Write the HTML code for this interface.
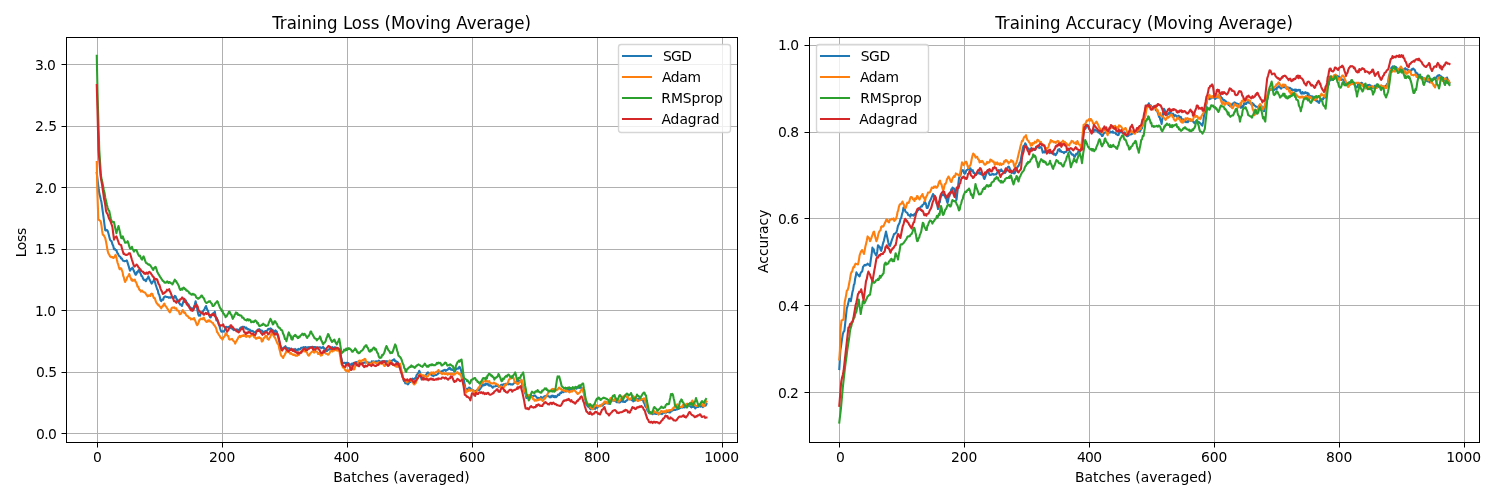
<!DOCTYPE html>
<html lang="en"><head><meta charset="utf-8"><title>Training curves</title>
<style>html,body{margin:0;padding:0;background:#fff}body{width:1500px;height:500px;overflow:hidden}svg{display:block}</style></head>
<body>
<svg width="1500" height="500" viewBox="0 0 1500 500" font-family="'DejaVu Sans', 'Liberation Sans', sans-serif" fill="#000">
<rect width="1500" height="500" fill="#fff"/>
<clipPath id="clip0"><rect x="66.5" y="37.5" width="671" height="405"/></clipPath>
<path d="M97.5 442.5V37.5M222.5 442.5V37.5M347.5 442.5V37.5M472.5 442.5V37.5M597.5 442.5V37.5M722.5 442.5V37.5M66.5 433.5H737.5M66.5 372.5H737.5M66.5 310.5H737.5M66.5 249.5H737.5M66.5 187.5H737.5M66.5 126.5H737.5M66.5 64.5H737.5" stroke="#b0b0b0" stroke-width="1" fill="none"/>
<path d="M97.5 442.5v5M222.5 442.5v5M347.5 442.5v5M472.5 442.5v5M597.5 442.5v5M722.5 442.5v5M66.5 433.5h-5M66.5 372.5h-5M66.5 310.5h-5M66.5 249.5h-5M66.5 187.5h-5M66.5 126.5h-5M66.5 64.5h-5" stroke="#000" stroke-width="1" fill="none"/>
<g clip-path="url(#clip0)" fill="none" stroke-width="2.08" stroke-linejoin="round" stroke-linecap="square">
<path d="M96.75 173L98.8 190L99.44 194.16L100.08 196.24L100.72 199.33L101.36 201.7L102 206L102.64 210.8L103.28 215.42L103.92 220.1L104.56 225.37L105.2 230L106 230.5L106.8 229.95L107.6 230.8L108.4 233.25L109.2 236.41L110 239.6L110.8 240.78L111.6 241.2L112.4 244.18L113.2 245.82L114 249.2L114.8 248.85L115.6 250.14L116.4 250L117.2 252.73L118 253.72L118.8 255.6L119.6 256.4L120.29 256.71L120.97 258.37L121.66 258.29L122.34 259.54L123.03 260.68L123.71 260.86L124.4 261.2L125.2 260.97L126 261.07L126.8 260.4L127.44 262.13L128.08 264.46L128.72 266.32L129.36 268.61L130 270.8L130.8 269.47L131.6 268.56L132.4 267.6L133.04 268.83L133.68 270.53L134.32 271.96L134.96 273.52L135.6 274.8L136.24 274.61L136.88 272.03L137.52 272.63L138.16 270.83L138.8 270L139.49 270.69L140.17 272.65L140.86 274.16L141.54 276.07L142.23 276.27L142.91 278.35L143.6 279.6L144.4 280.2L145.2 279.74L146 281.2L146.8 278.95L147.6 278.33L148.4 276.4L149.04 278.22L149.68 279.88L150.32 281.01L150.96 282.38L151.6 283.6L152.4 282.33L153.2 281.6L154 279.6L154.8 281.54L155.6 284.32L156.4 286.8L157.09 289.07L157.77 290.05L158.46 293.69L159.14 294.59L159.83 297.05L160.51 300.24L161.2 301.2L161.87 299.94L162.53 299.31L163.2 299.66L163.87 297.41L164.53 296.96L165.2 296.4L165.89 296.8L166.57 296.88L167.26 297.07L167.94 297.06L168.63 297.71L169.31 297.64L170 297.2L170.64 297.69L171.28 297.14L171.92 297.29L172.56 296.79L173.2 298L174 297.84L174.8 295.93L175.6 296.4L176.24 298.16L176.88 299.98L177.52 299.66L178.16 301.14L178.8 302.8L179.44 303.18L180.08 304.54L180.72 304.25L181.36 305.29L182 306L182.8 303.31L183.6 301.06L184.4 298.8L185.09 300.54L185.77 300.33L186.46 301.93L187.14 303.06L187.83 304.42L188.51 304.28L189.2 306L189.87 307.28L190.53 307.57L191.2 308.48L191.87 308.71L192.53 308.43L193.2 310L194 306.71L194.8 304.58L195.6 301.2L196.24 304.1L196.88 306.93L197.52 310.83L198.16 313.82L198.8 315.6L199.44 315.1L200.08 315.7L200.72 313.06L201.36 312.58L202 313.2L202.67 312.48L203.33 310.66L204 309.92L204.67 308.68L205.33 307.15L206 306L206.67 308.24L207.33 309.82L208 310.76L208.67 313.59L209.33 315.44L210 317.2L210.69 317.41L211.37 314.98L212.06 314.81L212.74 313.77L213.43 313.13L214.11 313.31L214.8 311.6L215.6 316.21L216.4 320.4L216.8 318L217.47 319.88L218.13 322.35L218.8 324.82L219.47 325.99L220.13 328.52L220.8 330.8L221.44 331.81L222.08 331.59L222.72 331.26L223.36 331.18L224 331.6L224.8 329.92L225.6 327.55L226.4 326.8L227.07 327.45L227.73 327.25L228.4 327.28L229.07 326.62L229.73 327.07L230.4 327.6L231.07 328.28L231.73 328.54L232.4 328.53L233.07 329.48L233.73 330.12L234.4 330L235.07 329.63L235.73 329.71L236.4 329.52L237.07 329.36L237.73 330.44L238.4 330L239.07 329.75L239.73 329.12L240.4 327.76L241.07 327.29L241.73 327.3L242.4 326.8L243.07 326.71L243.73 327.13L244.4 326.82L245.07 327.69L245.73 328.46L246.4 327.6L247.09 328.91L247.77 329.4L248.46 329.01L249.14 329.94L249.83 329.68L250.51 330.85L251.2 330.8L251.87 330.86L252.53 331.06L253.2 331.25L253.87 332.25L254.53 332.28L255.2 332.4L255.87 331.97L256.53 330.71L257.2 330.88L257.87 329.47L258.53 330.55L259.2 329.2L259.87 329.66L260.53 330.37L261.2 330.74L261.87 330.46L262.53 331.11L263.2 332.4L263.87 332.12L264.53 332.69L265.2 330.99L265.87 330.95L266.53 331.04L267.2 330.8L267.84 329.39L268.48 328.91L269.12 329.13L269.76 328.86L270.4 328.4L271.04 328.66L271.68 330.2L272.32 329.75L272.96 330.52L273.6 330.8L274.24 331.84L274.88 332.06L275.52 330.41L276.16 331.23L276.8 331.6L277.47 335.07L278.13 336.49L278.8 339.57L279.47 342.19L280.13 344.98L280.8 348.56L281.47 347.67L282.13 348.12L282.8 348.46L283.47 348.33L284.13 347.23L284.8 346.96L285.49 346.22L286.17 347.61L286.86 347.8L287.54 348.53L288.23 348.6L288.91 348.03L289.6 349.36L290.29 349.7L290.97 348.49L291.66 349.32L292.34 349.99L293.03 350.12L293.71 350.91L294.4 350.16L295.09 348.95L295.77 350.12L296.46 350.2L297.14 349.52L297.83 349.94L298.51 348.87L299.2 349.36L299.84 349.4L300.48 349.02L301.12 347.86L301.76 347.71L302.4 347.76L303.04 347.5L303.68 347.08L304.32 347.85L304.96 347.22L305.6 346.96L306.27 347.82L306.93 347.87L307.6 347.39L308.27 347.39L308.93 347.11L309.6 347.76L310.27 347.18L310.93 347.05L311.6 347.55L312.27 346.74L312.93 347.14L313.6 346.96L314.29 347.18L314.97 346.92L315.66 347.2L316.34 348.21L317.03 348.42L317.71 347.22L318.4 347.76L319.09 347.54L319.77 347.33L320.46 347.27L321.14 348.15L321.83 347.57L322.51 347.77L323.2 346.96L323.84 348.74L324.48 348.32L325.12 349.26L325.76 350.18L326.4 350.96L327.04 351.04L327.68 349.95L328.32 349.88L328.96 349.68L329.6 348.56L330.24 349.04L330.88 348.49L331.52 347.65L332.16 347.07L332.8 347.76L333.44 348.38L334.08 348.01L334.72 347.24L335.36 347.48L336 347.76L336.7 347.99L337.41 347.8L338.11 349.34L338.82 349.25L339.52 350.16L340.24 353.16L340.96 356.89L341.68 359.59L342.4 362.8L343.09 363.1L343.77 363.03L344.46 362.82L345.14 362.83L345.83 363.82L346.51 362.71L347.2 362.8L347.87 364.1L348.53 363.1L349.2 364.4L349.87 364.49L350.53 364.4L351.2 365.2L351.89 363.64L352.57 365.16L353.26 363.19L353.94 362.84L354.63 362.99L355.31 362.49L356 362L356.67 362.42L357.33 362.39L358 361.98L358.67 363.54L359.33 362.84L360 363.6L360.69 363.61L361.37 363.69L362.06 363.91L362.74 363.02L363.43 362.86L364.11 362.79L364.8 362.8L365.49 361.78L366.17 362.38L366.86 362.25L367.54 362.17L368.23 362.89L368.91 362.63L369.6 362.8L370.31 363.5L371.02 363.26L371.73 361.23L372.44 362.16L373.16 361.36L373.87 362.04L374.58 361.64L375.29 361.89L376 361.2L376.69 361.49L377.37 361.85L378.06 361.38L378.74 360.56L379.43 361.12L380.11 361.42L380.8 362L381.49 361.62L382.17 361.21L382.86 362.56L383.54 361.45L384.23 362.14L384.91 361.13L385.6 361.2L386.27 362.38L386.93 361.07L387.6 362.33L388.27 361.54L388.93 362.78L389.6 362.8L390.27 363.14L390.93 360.83L391.6 360.72L392.27 360.8L392.93 360.03L393.6 359.6L394.27 359.25L394.93 361.04L395.6 360.83L396.27 361.91L396.93 361.78L397.6 362L398.24 362.97L398.88 364.94L399.52 367.56L400.16 367.64L400.8 370L401.44 371.98L402.08 374.81L402.72 377.28L403.36 379.42L404 381.2L404.67 380.92L405.33 383.37L406 382.71L406.67 383.34L407.33 383.87L408 384.4L408.64 383.47L409.28 382.27L409.92 381.82L410.56 381.93L411.2 380.4L411.87 379.25L412.53 378.5L413.2 379.49L413.87 378.99L414.53 378.8L415.2 378L415.87 377.75L416.53 375.2L417.2 374.5L417.87 373.48L418.53 372.68L419.2 370.8L420 372.4L420.8 376.56L421.6 379.6L422.24 378.5L422.88 377.56L423.52 377.53L424.16 376.15L424.8 376.4L425.44 376.21L426.08 374.58L426.72 373.8L427.36 372.71L428 372.4L428.69 373.7L429.37 373.47L430.06 373.54L430.74 374.56L431.43 374.64L432.11 375.47L432.8 375.6L433.49 376.1L434.17 375L434.86 375.2L435.54 374.95L436.23 375.08L436.91 374.56L437.6 374L438.29 373.56L438.97 372.73L439.66 372.79L440.34 371.6L441.03 372.07L441.71 371.29L442.4 370.8L443.09 370.99L443.77 370.29L444.46 370.02L445.14 369.84L445.83 370.84L446.51 369.99L447.2 370L447.84 369.55L448.48 368.38L449.12 369.01L449.76 367.62L450.4 368.4L451.07 369.68L451.73 369.33L452.4 370.01L453.07 369.75L453.73 370.46L454.4 371.6L455.2 370.87L456 369.35L456.8 368.4L457.44 368.48L458.08 368.78L458.72 368.28L459.36 366.72L460 367.6L460.64 369.14L461.28 371.14L461.92 373.34L462.56 374.82L463.2 378L464 380.63L464.8 385.06L465.6 389.2L466.29 388.76L466.97 389.26L467.66 388.68L468.34 389.52L469.03 387.62L469.71 387.75L470.4 388.4L471.2 389.34L472 389.85L472.8 390.8L473.44 390.26L474.08 391.22L474.72 391.4L475.36 391.52L476 390.8L476.67 390.31L477.33 390.26L478 390.12L478.67 389.76L479.33 390.03L480 389.2L480.64 387.97L481.28 387.48L481.92 385.22L482.56 385.77L483.2 384.4L483.87 385.3L484.53 384.38L485.2 384.97L485.87 383.48L486.53 384.22L487.2 384.4L487.89 383.89L488.57 385.26L489.26 385.72L489.94 385.02L490.63 385.65L491.31 386.13L492 386.8L492.67 387.77L493.33 386.49L494 386.47L494.67 386.46L495.33 386.3L496 386L496.67 385.87L497.33 385.27L498 385.63L498.67 386.9L499.33 386.14L500 386L500.67 385.53L501.33 384.72L502 385.17L502.67 384.95L503.33 384.31L504 384.4L504.67 384.76L505.33 383.81L506 383.91L506.67 384.33L507.33 383.86L508 383.6L508.67 384.35L509.33 383.74L510 383.76L510.67 384.39L511.33 384.38L512 384.4L512.67 384.65L513.33 383.82L514 383.19L514.67 383.05L515.33 382.76L516 382L516.69 381.15L517.37 381.46L518.06 381.13L518.74 381.75L519.43 380.59L520.11 381.21L520.8 380.4L521.44 381.46L522.08 383.89L522.72 386.27L523.36 387.3L524 389.2L524.8 392.77L525.6 393.97L526.4 398L527.07 397.75L527.73 397.56L528.4 397.13L529.07 396.1L529.73 397.03L530.4 396.4L531.07 395.17L531.73 396.66L532.4 396.16L533.07 396.41L533.73 395.59L534.4 395.6L535.04 395.47L535.68 396.28L536.32 396.78L536.96 397.85L537.6 398L538.27 397.83L538.93 398.23L539.6 398.27L540.27 398.78L540.93 396.91L541.6 398L542.29 397.44L542.97 397.7L543.66 397.35L544.34 396.32L545.03 396.15L545.71 395.9L546.4 395.6L547.04 396L547.68 395.94L548.32 396.21L548.96 396.27L549.6 397.2L550.24 396.68L550.88 397.33L551.52 395.73L552.16 396.46L552.8 395.6L553.47 396.81L554.13 395.99L554.8 397.1L555.47 396.07L556.13 397.2L556.8 396.4L557.44 395.75L558.08 394.47L558.72 394.69L559.36 394.89L560 393.2L560.67 392.63L561.33 392.95L562 391.87L562.67 391.67L563.33 392.14L564 391.6L564.67 391.25L565.33 391.4L566 391.52L566.67 389.91L567.33 389.91L568 390L568.67 389.92L569.33 390.83L570 389.45L570.67 389.23L571.33 389.6L572 389.2L572.67 390.03L573.33 388.38L574 388.26L574.67 388.19L575.33 388.32L576 387.6L576.67 388.7L577.33 386.95L578 386.72L578.67 387.72L579.33 387.93L580 387.6L580.64 386.82L581.28 387.94L581.92 389.13L582.56 388.63L583.2 389.2L583.84 392.55L584.48 395.42L585.12 398.73L585.76 401.65L586.4 404.4L587.04 405.23L587.68 406.41L588.32 406.06L588.96 407.08L589.6 407.6L590 408.5L590.75 409.3L591.5 408.5L592.25 408.72L593 409L593.7 408.24L594.4 407.74L595.1 408.9L595.8 407.72L596.5 407L597.2 407.79L597.9 406.86L598.6 406.2L599.3 405.7L600 405.5L600.75 405.58L601.5 405.28L602.25 405.68L603 405L603.75 403.95L604.5 403.9L605.25 403.44L606 402.5L606.75 402.68L607.5 402.93L608.25 403.61L609 403.5L609.75 402.99L610.5 401.75L611.25 400.93L612 400L612.67 400L613.33 400.86L614 400.74L614.67 400.19L615.33 401.13L616 401.5L616.75 402.14L617.5 402.21L618.25 401.81L619 402.5L619.75 402.45L620.5 401.88L621.25 401.38L622 400.5L622.75 401.76L623.5 401.11L624.25 402L625 402L625.75 401.03L626.5 400.83L627.25 400.05L628 398.5L628.75 399.06L629.5 399.45L630.25 398.84L631 399.5L631.75 400.13L632.5 399.38L633.25 401.35L634 400.5L634.75 400.79L635.5 398.94L636.25 398.27L637 399L637.75 399.86L638.5 398.8L639.25 399.69L640 399.5L640.75 399.06L641.5 400.06L642.25 399.91L643 400.5L643.75 402.47L644.5 403.58L645.25 406.2L646 407L646.75 408.1L647.5 410.71L648.25 411.5L649 413L649.75 413.42L650.5 412.38L651.25 412.42L652 413.5L652.67 414.17L653.33 413L654 413.57L654.67 413.66L655.33 413.43L656 414L656.67 414.03L657.33 413.06L658 413.1L658.67 414.18L659.33 413.15L660 413.5L660.67 413.83L661.33 413.7L662 414.09L662.67 413.42L663.33 412.08L664 413L664.75 412.27L665.5 412.03L666.25 412.55L667 411.5L667.75 411.94L668.5 411.73L669.25 412.49L670 412.5L670.75 411.55L671.5 411.3L672.25 410.33L673 409.5L673.75 410.11L674.5 409.68L675.25 410.05L676 409.5L676.67 409.24L677.33 409.39L678 408.67L678.67 408.85L679.33 408.37L680 408L680.67 407.77L681.33 407.44L682 407.35L682.67 407.59L683.33 406.07L684 407L684.67 407.43L685.33 405.4L686 406.15L686.67 405.82L687.33 406.16L688 405.5L688.67 405.8L689.33 405.81L690 406.05L690.67 406.69L691.33 407.43L692 406.5L692.67 406.87L693.33 405.73L694 406.77L694.67 407.4L695.33 408.43L696 407.5L696.67 406.83L697.33 406.8L698 407.06L698.67 406.68L699.33 405.52L700 406L700.7 406.62L701.4 405.48L702.1 406.15L702.8 407.13L703.5 406.5L704.25 405.15L705 405.06L705.75 405.54L706.5 404" stroke="#1f77b4"/>
<path d="M96.75 162L97.3 190L98.32 219.6L98.96 219.86L99.6 220.4L100.24 220.62L100.88 222L101.52 225.95L102.16 230.99L102.8 234.8L103.6 235L104.4 236.58L105.2 238L106 241.46L106.8 245.9L107.6 250.8L108.4 253.37L109.2 254.49L110 256.4L110.64 256.48L111.28 257.27L111.92 256.97L112.56 257.02L113.2 258L114 257.56L114.8 256.35L115.6 254.8L116.27 256.73L116.93 259.99L117.6 262.8L118.27 264.67L118.93 267.08L119.6 269.2L120.4 268.12L121.2 268.4L121.87 270.59L122.53 271.9L123.2 275.81L123.87 277.37L124.53 280.46L125.2 282L125.87 280.24L126.53 279.82L127.2 277.12L127.87 276.44L128.53 275.63L129.2 274L130 276.33L130.8 278.23L131.6 280.4L132.24 279.33L132.88 280.81L133.52 280.28L134.16 280.39L134.8 279.6L135.49 281.71L136.17 282.36L136.86 284.27L137.54 286.64L138.23 286.56L138.91 288.74L139.6 290L140.24 290.01L140.88 291.61L141.52 291.06L142.16 290.7L142.8 291.6L143.49 291.95L144.17 292.19L144.86 292.56L145.54 293.24L146.23 294.62L146.91 295.08L147.6 296.4L148.29 296.14L148.97 295.25L149.66 295.49L150.34 296.01L151.03 294.03L151.71 293.67L152.4 294L153.07 296.01L153.73 298.03L154.4 297.91L155.07 298.92L155.73 301.17L156.4 302.8L157.09 303.37L157.77 304.79L158.46 304.61L159.14 305.85L159.83 306.62L160.51 306.72L161.2 308.4L161.84 306.56L162.48 306.73L163.12 305.82L163.76 304.11L164.4 303.6L165.1 305.57L165.8 306.32L166.5 307.16L167.2 308.34L167.9 309.29L168.6 310.6L169.3 311.78L170 312.4L170.8 310.84L171.6 308.1L172.4 307.6L173.04 307.67L173.68 307.45L174.32 307.41L174.96 308.57L175.6 308.4L176.29 308.2L176.97 310.46L177.66 310.44L178.34 310.91L179.03 311.91L179.71 314.3L180.4 314L181.2 313.49L182 311.17L182.8 310L183.47 311.53L184.13 312.86L184.8 312.31L185.47 313.57L186.13 315.18L186.8 315.6L187.49 316.28L188.17 316.3L188.86 317.88L189.54 317.71L190.23 318.32L190.91 319.44L191.6 318.8L192.4 318.8L193.2 319.37L194 318L194.64 319.61L195.28 320.79L195.92 322.39L196.56 324.25L197.2 325.2L197.9 324.16L198.6 322.61L199.3 320.16L200 319.6L200.64 318.66L201.28 318.81L201.92 319.04L202.56 319.13L203.2 318L203.84 317.7L204.48 319.51L205.12 320.14L205.76 321.13L206.4 322L207.04 321.79L207.68 320.87L208.32 320.29L208.96 321.28L209.6 320.4L210.29 321.5L210.97 321.53L211.66 322.38L212.34 322.74L213.03 323.03L213.71 324.87L214.4 325.2L215.07 326.28L215.73 327.49L216.4 329.25L217.07 331.98L217.73 332.77L218.4 334L219.07 335.06L219.73 335.91L220.4 337.27L221.07 338.14L221.73 337.92L222.4 339.6L223.07 338.39L223.73 337.09L224.4 336.51L225.07 335.29L225.73 333.17L226.4 333.2L227.04 335.11L227.68 335.89L228.32 336.05L228.96 338.95L229.6 339.6L230.4 339.39L231.2 339.32L232 338.8L232.64 339.76L233.28 340.79L233.92 341.38L234.56 341.68L235.2 343.6L235.84 341.95L236.48 341.12L237.12 339.76L237.76 338.82L238.4 337.2L239.04 336.96L239.68 335.78L240.32 337.1L240.96 336.08L241.6 336.4L242.27 335.48L242.93 335.92L243.6 335.2L244.27 336.03L244.93 335.18L245.6 335.6L246.27 336.92L246.93 335.96L247.6 336.05L248.27 336.26L248.93 335.83L249.6 337.2L250.24 336.19L250.88 335.77L251.52 335.53L252.16 334.18L252.8 334.8L253.44 335.58L254.08 337.08L254.72 336.92L255.36 337.93L256 338.8L256.64 338.68L257.28 337.68L257.92 337.56L258.56 338.02L259.2 337.2L259.84 338.07L260.48 338.08L261.12 338.57L261.76 341.5L262.4 341.2L263.04 340.3L263.68 338.05L264.32 337.9L264.96 337.08L265.6 335.6L266.24 336.45L266.88 336.13L267.52 339L268.16 339.12L268.8 339.6L269.44 338.19L270.08 337.41L270.72 335.62L271.36 334.28L272 333.2L272.64 334.65L273.28 334.02L273.92 336.63L274.56 337.26L275.2 338L275.84 339.7L276.48 341.07L277.12 342.71L277.76 343.93L278.4 344.4L279.2 348.36L280 351.12L280.8 354.8L281.6 356.26L282.4 356.67L283.2 358L283.84 356.03L284.48 355.38L285.12 353.89L285.76 352.92L286.4 350.8L287.04 350.02L287.68 351.79L288.32 352.15L288.96 352.16L289.6 352.4L290.24 353.72L290.88 352.89L291.52 354.05L292.16 354.13L292.8 354.8L293.49 354.92L294.17 354.5L294.86 355.08L295.54 355.65L296.23 355.46L296.91 355.7L297.6 355.6L298.29 354.39L298.97 354.91L299.66 352.83L300.34 352.43L301.03 351.95L301.71 350.72L302.4 350L303.04 350.61L303.68 350.45L304.32 351.45L304.96 350.97L305.6 350.8L306.24 352.01L306.88 352.29L307.52 353.96L308.16 355.22L308.8 355.6L309.44 355.05L310.08 353.5L310.72 352.92L311.36 352.29L312 351.6L312.69 351.63L313.37 350.85L314.06 352.66L314.74 351.56L315.43 351.68L316.11 351.37L316.8 351.6L317.47 352.26L318.13 354.02L318.8 353.09L319.47 353.99L320.13 354.37L320.8 355.6L321.44 354.67L322.08 355.18L322.72 353.34L323.36 352.8L324 352.4L324.67 351.81L325.33 353.01L326 353.74L326.67 353.74L327.33 354.19L328 354.8L328.64 354.45L329.28 353.5L329.92 352.35L330.56 351.18L331.2 350.8L331.89 349.86L332.57 351.51L333.26 349.61L333.94 350.71L334.63 350.13L335.31 349.72L336 350L336.64 350.5L337.28 349.6L337.92 350.71L338.56 349.44L339.2 350L340 355.09L340.8 360.32L341.6 364.4L342.24 364.84L342.88 367.42L343.52 367.77L344.16 367.14L344.8 369.2L345.47 370.38L346.13 371.07L346.8 370.27L347.47 370.71L348.13 371.42L348.8 371.6L349.44 369.6L350.08 369.78L350.72 369.25L351.36 367.47L352 366.8L352.8 368.23L353.6 369.5L354.4 369.2L355.07 366.79L355.73 365.54L356.4 364.82L357.07 364.23L357.73 362.76L358.4 361.2L359.04 360.7L359.68 360.58L360.32 360.81L360.96 362.15L361.6 361.2L362.24 360.2L362.88 359.93L363.52 360.3L364.16 359.14L364.8 358.8L365.44 359.38L366.08 361.84L366.72 362.36L367.36 362.91L368 364.4L368.69 363.97L369.37 364.47L370.06 363.53L370.74 363.64L371.43 363.77L372.11 363.6L372.8 362.8L373.49 361.8L374.17 362.55L374.86 362.63L375.54 362.88L376.23 363.25L376.91 363.47L377.6 362.8L378.29 362.57L378.97 362.21L379.66 362.93L380.34 362.49L381.03 363.78L381.71 363.03L382.4 362.8L383.2 363.93L384 365.51L384.8 366L385.49 364.87L386.17 364.24L386.86 363.53L387.54 363.19L388.23 362.75L388.91 361.67L389.6 360.4L390.27 361.65L390.93 361.91L391.6 363.04L392.27 363.5L392.93 365.07L393.6 365.2L394.27 365.15L394.93 365.72L395.6 366.16L396.27 366.73L396.93 366.16L397.6 366.8L398.4 365.64L399.2 364.24L400 363.6L400.64 365.93L401.28 370.31L401.92 373L402.56 374.96L403.2 378.8L403.84 378.93L404.48 380.42L405.12 380.41L405.76 380.81L406.4 382L407.09 382.49L407.77 381.3L408.46 381.14L409.14 381.42L409.83 380.49L410.51 380.67L411.2 380.4L411.84 381.31L412.48 382.44L413.12 382.42L413.76 384.22L414.4 384.4L415.04 383.49L415.68 383.17L416.32 381.18L416.96 379.65L417.6 378.8L418.4 376.93L419.2 375L420 374L420.64 374.34L421.28 374.62L421.92 375.47L422.56 375.34L423.2 375.6L423.87 375.28L424.53 376.45L425.2 375.78L425.87 376.29L426.53 377.09L427.2 376.4L427.87 376.45L428.53 374.67L429.2 374.35L429.87 374.48L430.53 373.62L431.2 372.4L431.84 373.03L432.48 373.54L433.12 372.26L433.76 373.52L434.4 374L435.07 372.54L435.73 372.32L436.4 371.79L437.07 371.59L437.73 371.31L438.4 370L439.2 371.5L440 372.28L440.8 373.2L441.49 373.11L442.17 374.13L442.86 373.68L443.54 372.67L444.23 373.72L444.91 374.14L445.6 374L446.29 373.45L446.97 374.1L447.66 374.82L448.34 373.83L449.03 373.94L449.71 373.95L450.4 374L451.04 373.59L451.68 374.03L452.32 373.89L452.96 374.44L453.6 374.8L454.24 373.84L454.88 374.34L455.52 373.26L456.16 373.31L456.8 372.4L457.47 372.06L458.13 373.15L458.8 373.88L459.47 374.34L460.13 374.02L460.8 374.8L461.6 377.63L462.4 380.69L463.2 383.6L463.84 385.13L464.48 386.85L465.12 389.13L465.76 389.94L466.4 392.4L467.04 390.87L467.68 391.13L468.32 391.08L468.96 389.38L469.6 390L470.4 390.71L471.2 390.01L472 390L472.64 390.76L473.28 390.46L473.92 391.38L474.56 392.89L475.2 392.4L476 392.33L476.8 390.58L477.6 389.2L478.24 388.05L478.88 387.19L479.52 387.02L480.16 384.93L480.8 384.4L481.44 383.21L482.08 383.01L482.72 382.95L483.36 381.21L484 381.2L484.67 381.36L485.33 381.37L486 381.23L486.67 381.07L487.33 381.67L488 381.2L488.67 381.88L489.33 381.14L490 383.25L490.67 383.01L491.33 383.33L492 383.6L492.67 383.35L493.33 383.38L494 382.5L494.67 383.41L495.33 383.87L496 383.6L496.64 384.52L497.28 384.44L497.92 384.42L498.56 385.47L499.2 386.8L499.87 386.7L500.53 387.71L501.2 386.24L501.87 387.28L502.53 387.73L503.2 387.6L503.87 387.22L504.53 386.15L505.2 384.5L505.87 385.21L506.53 384.27L507.2 383.6L508 382.24L508.8 379.81L509.6 378.8L510.24 377.99L510.88 378.62L511.52 377.25L512.16 376.82L512.8 376.4L513.6 378.08L514.4 381.31L515.2 382.8L516 382.37L516.8 383.53L517.6 384.4L518.27 383.79L518.93 382.73L519.6 382.44L520.27 381.39L520.93 381.16L521.6 379.6L522.4 382.63L523.2 385.89L524 389.2L524.8 391.45L525.6 392.44L526.4 395.6L527.04 396.19L527.68 394.74L528.32 395.72L528.96 395.73L529.6 394.8L530.24 396.14L530.88 396.49L531.52 396.82L532.16 396.9L532.8 398.8L533.44 399.41L534.08 399.29L534.72 400.7L535.36 399.9L536 400.4L536.67 400.6L537.33 399.89L538 400.22L538.67 399.65L539.33 399.62L540 399.6L540.64 398.69L541.28 399.5L541.92 399.98L542.56 400.93L543.2 400.4L543.87 399.6L544.53 397.83L545.2 398.47L545.87 396.85L546.53 396.34L547.2 394.8L547.84 393.48L548.48 392.1L549.12 391.95L549.76 391.01L550.4 390.8L551.04 390.61L551.68 389.28L552.32 389.33L552.96 388.74L553.6 389.2L554.24 389.42L554.88 388.99L555.52 390.43L556.16 390.27L556.8 390L557.6 389.66L558.4 388.27L559.2 387.6L559.84 388.2L560.48 389.03L561.12 388.56L561.76 390.21L562.4 390L563.04 389.95L563.68 390.7L564.32 391.1L564.96 390.87L565.6 390L566.27 389.79L566.93 391.48L567.6 391.02L568.27 391.36L568.93 391.86L569.6 392.4L570.27 391.34L570.93 391.73L571.6 390.8L572.27 391.42L572.93 390.58L573.6 390L574.27 389.57L574.93 390.79L575.6 391.43L576.27 392.27L576.93 392.96L577.6 394L578.4 393.57L579.2 392.84L580 392.4L580.8 390.45L581.6 389.97L582.4 388.4L583.04 391.14L583.68 392.88L584.32 395.77L584.96 397.59L585.6 399.6L586.4 400.88L587.2 402.57L588 404.4L588.67 405.26L589.33 406.42L590 407L590.75 407.59L591.5 408.54L592.25 409.14L593 409L593.75 407.43L594.5 406.35L595.25 405.94L596 405L596.67 405.5L597.33 406L598 406.1L598.67 406.34L599.33 405.73L600 406.5L600.75 405.95L601.5 404.64L602.25 404.48L603 403.5L603.67 403.33L604.33 401.79L605 401.5L605.75 401.74L606.5 403.35L607.25 402.2L608 403L608.75 401.46L609.5 399.89L610.25 398.45L611 398L611.62 399.3L612.25 399.12L612.88 399.9L613.5 401L614.12 400.17L614.75 399.15L615.38 400.29L616 399.5L616.75 399.69L617.5 400.46L618.25 401.75L619 401.5L619.75 400.54L620.5 399.81L621.25 398.97L622 398L622.62 398.2L623.25 396.24L623.88 396.18L624.5 396L625.25 395.15L626 396.51L626.75 397.1L627.5 397L628.12 397.26L628.75 399.1L629.38 399.05L630 399L630.75 399.34L631.5 397.6L632.25 397.76L633 396L633.75 396.6L634.5 397.99L635.25 398.71L636 399.5L636.75 399.53L637.5 400.94L638.25 401L639 400.5L639.75 399.77L640.5 400.16L641.25 399.46L642 399L642.62 398.99L643.25 399.12L643.88 398.38L644.5 398.5L645.17 401.14L645.83 403.7L646.5 406L647.12 407.2L647.75 408.76L648.38 411.02L649 412L649.75 412.31L650.5 413.6L651.25 413.85L652 413L652.75 412.38L653.5 412.7L654.25 411.15L655 412L655.7 412.16L656.4 412.52L657.1 413.08L657.8 412.9L658.5 414.5L659.25 413.78L660 412.83L660.75 411.43L661.5 411L662.2 411.16L662.9 411.91L663.6 412.49L664.3 411.06L665 412L665.67 412.55L666.33 410.38L667 410.54L667.67 410.45L668.33 411.19L669 410L669.75 410.21L670.5 410.07L671.25 410.49L672 409.5L672.75 408.75L673.5 407.5L674.25 407.69L675 406L675.75 405.63L676.5 404.79L677.25 404.28L678 405L678.75 405.59L679.5 407.04L680.25 406.91L681 407L681.62 406.65L682.25 406.92L682.88 405.04L683.5 405.5L684.25 405.36L685 404.45L685.75 405.14L686.5 404L687.25 403.66L688 404.69L688.75 404.48L689.5 404.5L690.25 403.51L691 402.88L691.75 401.43L692.5 400.5L693.12 402.42L693.75 402.63L694.38 402.77L695 405L695.75 405.93L696.5 405.99L697.25 405.65L698 405.5L698.75 405.9L699.5 405.13L700.25 403.91L701 404L701.62 403.52L702.25 404.67L702.88 405.71L703.5 406.5L704.25 405.54L705 403.21L705.75 402.24L706.5 401.5" stroke="#ff7f0e"/>
<path d="M96.75 55.8L97.7 100L99.3 150L100.9 175L101.62 179.59L102.35 182.11L103.08 185.84L103.8 190L104.56 192.99L105.32 197.94L106.08 200.99L106.84 204.57L107.6 207.6L108.4 210.11L109.2 210.8L110 214.8L110.8 218.47L111.6 221.2L112.4 221.67L113.2 222.21L114 222L114.8 226.08L115.6 229.85L116.4 233.2L117.09 230.15L117.79 228.28L118.48 226L119.16 228.79L119.84 231.63L120.52 234.97L121.2 238L122 238.2L122.8 236.4L123.6 239.05L124.4 240.71L125.2 242.8L126 242.45L126.8 242.51L127.6 241.2L128.4 242.92L129.2 246.21L130 248.4L130.64 248.78L131.28 248.32L131.92 246.8L132.61 248.89L133.31 250.3L134 251.6L134.8 250.06L135.6 250.13L136.4 250L137.2 251.97L138 254L138.67 255.13L139.33 256.08L140 255.7L140.67 257.42L141.33 258.81L142 259.6L142.8 257.56L143.6 256.4L144.4 258.4L145.2 260.94L146 262.8L146.64 263.28L147.28 263.52L147.92 264.15L148.56 264.69L149.2 264.4L149.87 265.16L150.53 265.67L151.2 266.8L151.87 267.85L152.53 269.03L153.2 270L154 268.09L154.8 267.43L155.6 266.8L156.4 268.78L157.2 271.8L158 273.2L158.67 274.54L159.33 275.24L160 276.88L160.67 277.56L161.33 278.65L162 279.6L162.64 280.82L163.28 281.06L163.92 281.6L164.56 282.55L165.2 282.8L165.87 282.36L166.53 282.55L167.2 281.3L167.87 282.03L168.53 282.98L169.2 282L169.84 282.28L170.48 282.96L171.12 283.2L171.76 283.35L172.4 284.4L173.2 283.07L174 281.19L174.8 279.6L175.44 281.16L176.08 281.03L176.72 282.5L177.36 283.25L178 284.4L178.8 285.94L179.6 288.73L180.4 290L181.04 289.12L181.68 288.64L182.32 289.66L182.96 288.04L183.6 287.6L184.24 288.13L184.88 289.14L185.52 288.97L186.16 290.35L186.8 290.8L187.44 290.63L188.08 291.5L188.72 291.93L189.36 293.46L190 293.2L190.69 293.78L191.37 294.68L192.06 294.81L192.74 293.74L193.43 294.64L194.11 294.34L194.8 294.8L195.44 295.25L196.08 297.06L196.72 297.99L197.36 298.07L198 298.8L198.67 298.46L199.33 297.9L200 297.38L200.67 296.86L201.33 295.58L202 295.6L202.67 297.14L203.33 297.62L204 298.55L204.67 300.33L205.33 301.75L206 302.8L206.67 303L207.33 302.48L208 302.16L208.67 301.37L209.33 301.69L210 301.2L210.64 302.28L211.28 303.28L211.92 303.67L212.56 305.98L213.2 306L213.87 305.62L214.53 304.77L215.2 303.65L215.87 302.64L216.53 302.51L217.2 301.2L217.84 301.91L218.48 303.83L219.12 305.36L219.76 307.27L220.4 308.4L221.09 309.26L221.77 311.24L222.46 310.51L223.14 313.37L223.83 313.71L224.51 315.09L225.2 315.6L225.6 317.2L226.27 315.98L226.93 315.9L227.6 314.22L228.27 313.6L228.93 311.71L229.6 311.6L230.24 313.34L230.88 314.54L231.52 314.88L232.16 317.3L232.8 318.8L233.44 317.34L234.08 316.69L234.72 314.58L235.36 313.78L236 312.4L236.67 313.64L237.33 312.98L238 315.03L238.67 314.66L239.33 314.94L240 315.6L240.71 315.37L241.42 315.68L242.13 317.72L242.84 317.47L243.56 317.92L244.27 319.38L244.98 319.7L245.69 319.93L246.4 320.4L247.04 319.42L247.68 319L248.32 320.44L248.96 319.73L249.6 319.6L250.4 320.25L251.2 322.25L252 322L252.64 321.44L253.28 321.55L253.92 322.14L254.56 321.06L255.2 320.4L255.89 320.89L256.57 321.53L257.26 323.47L257.94 322.92L258.63 324.86L259.31 326.09L260 326L260.64 325.47L261.28 325.5L261.92 324.6L262.56 324.87L263.2 323.6L264 324.56L264.8 324.82L265.6 326L266.4 325.94L267.2 325.55L268 325.2L268.8 322.73L269.6 320.81L270.4 318.8L271.2 320.01L272 322.07L272.8 324.4L273.6 323.69L274.4 321.25L275.2 321.2L275.84 322.48L276.48 323.45L277.12 324.24L277.76 326.46L278.4 326.8L279.04 327.83L279.68 327.76L280.32 328.84L280.96 329.87L281.6 330L282.29 330.74L282.97 333.32L283.66 334.67L284.34 336.62L285.03 339.1L285.71 339.25L286.4 341.2L287.2 338.08L288 334.68L288.8 332.4L289.44 333.97L290.08 335.63L290.72 335.62L291.36 338.98L292 339.6L292.64 339.53L293.28 336.58L293.92 335.89L294.56 336.03L295.2 334.8L295.84 335.5L296.48 336.74L297.12 336.57L297.76 338.09L298.4 338L299.04 336.62L299.68 336.96L300.32 335.85L300.96 335.2L301.6 334.8L302.24 333.68L302.88 334.27L303.52 335.1L304.16 333.82L304.8 334L305.6 335.22L306.4 336.76L307.2 338L307.87 336.42L308.53 336.03L309.2 335.13L309.87 333.62L310.53 331.66L311.2 331.6L311.84 333.75L312.48 334.21L313.12 335.45L313.76 336.63L314.4 338L315.2 338.5L316 338.7L316.8 340.4L317.44 339.6L318.08 338.91L318.72 338.57L319.36 338.13L320 336.4L320.64 337.62L321.28 340.52L321.92 341.27L322.56 343.15L323.2 344.4L324 342.8L324.8 342.49L325.6 341.2L326.4 338.31L327.2 336.8L328 334L328.67 334.67L329.33 336.72L330 337.8L330.67 339.56L331.33 340.84L332 342L332.8 341.32L333.6 340.15L334.4 339.6L335.2 341.71L336 343.15L336.8 344.4L337.6 342.13L338.4 341.11L339.2 338.8L340 343.28L340.8 348.48L341.6 353.2L342.24 352.54L342.88 351.91L343.52 351.76L344.16 349.68L344.8 350L345.49 350.52L346.17 348.6L346.86 350.04L347.54 349.44L348.23 348.08L348.91 348.87L349.6 348.4L350.4 349.34L351.2 349.93L352 351.6L352.64 351.68L353.28 350.99L353.92 349.95L354.56 350.03L355.2 348.4L355.84 349.5L356.48 350.23L357.12 352.07L357.76 351.89L358.4 353.2L359.09 353.13L359.77 352.74L360.46 351.67L361.14 351.04L361.83 350.68L362.51 349.98L363.2 349.2L363.84 348.08L364.48 346.5L365.12 346.58L365.76 345.26L366.4 345.2L367.04 347.09L367.68 347.58L368.32 349.24L368.96 350.81L369.6 351.6L370.27 351.57L370.93 349.82L371.6 350.7L372.27 349.52L372.93 348.7L373.6 347.6L374.4 347.7L375.2 349.77L376 349.2L376.67 351.11L377.33 352.83L378 353.51L378.67 356.17L379.33 357.43L380 358L380.67 357.22L381.33 357.5L382 355.08L382.67 355.36L383.33 354.43L384 353.2L384.8 351.25L385.6 348.07L386.4 346L387.07 347.06L387.73 348.99L388.4 350.25L389.07 350.82L389.73 351.9L390.4 353.2L391.2 352.42L392 352.92L392.8 351.6L393.6 349.16L394.4 346.53L395.2 344.4L395.84 345.62L396.48 347.92L397.12 350.52L397.76 352.26L398.4 355.6L399.2 356.19L400 357.04L400.8 358L401.49 359.39L402.17 361.66L402.86 363.78L403.54 364.79L404.23 368.11L404.91 368.56L405.6 371.6L406.24 371.89L406.88 369.18L407.52 369.22L408.16 368.2L408.8 367.6L409.44 367.49L410.08 366.54L410.72 366.94L411.36 365.44L412 366L412.64 366.74L413.28 366.48L413.92 367.17L414.56 367.85L415.2 367.6L415.84 366.29L416.48 365.99L417.12 365.26L417.76 364.98L418.4 364.4L419.2 364.89L420 365.2L420.8 366.13L421.6 366.38L422.4 366.8L423.2 365.64L424 364.97L424.8 363.6L425.44 364.81L426.08 365.42L426.72 366.62L427.36 365.81L428 366.8L428.64 366.45L429.28 365.09L429.92 364.97L430.56 365.22L431.2 364.4L431.84 365.26L432.48 364.44L433.12 365.14L433.76 365.08L434.4 365.2L435.04 365.16L435.68 364.68L436.32 363.98L436.96 362.82L437.6 363.6L438.4 362.5L439.2 363.28L440 362.8L440.8 363.55L441.6 365.5L442.4 365.2L443.2 364.43L444 364.11L444.8 362.8L445.44 362.63L446.08 362.99L446.72 364.35L447.36 365.65L448 365.2L448.8 365.16L449.6 364.49L450.4 364.4L451.2 365.16L452 365.81L452.8 366L453.6 368.65L454.4 370.8L455.04 369.06L455.68 366.7L456.32 364.89L456.96 363.48L457.6 362L458.27 361.53L458.93 360.47L459.6 361.69L460.27 360.73L460.93 359.71L461.6 359.6L462.4 366.16L463.2 372.97L464 378L464.8 378.67L465.6 379.19L466.4 379.6L467.04 380.97L467.68 380.45L468.32 381.69L468.96 382.38L469.6 383.6L470.4 382.7L471.2 380.01L472 379.6L472.64 379.46L473.28 378.7L473.92 378.49L474.56 378.01L475.2 378L476 380.15L476.8 380.19L477.6 382L478.4 381.88L479.2 383.24L480 383.6L480.64 382.16L481.28 381.64L481.92 380.21L482.56 379.14L483.2 378L484 378.56L484.8 378.13L485.6 379.6L486.24 377.38L486.88 378.46L487.52 375.59L488.16 375.41L488.8 374L489.44 373.7L490.08 374.59L490.72 374.81L491.36 376.08L492 375.6L492.8 376.82L493.6 377.42L494.4 379.6L495.07 377.88L495.73 377.9L496.4 377.28L497.07 376.97L497.73 376.03L498.4 374L499.04 374.65L499.68 376.81L500.32 377.64L500.96 379.91L501.6 381.2L502.27 380.84L502.93 378.59L503.6 379.27L504.27 378.4L504.93 377.06L505.6 376.4L506.24 375.75L506.88 376.67L507.52 375.36L508.16 374.52L508.8 374.8L509.44 375.5L510.08 376.65L510.72 377.1L511.36 376.28L512 378L512.64 376.13L513.28 375.53L513.92 374.72L514.56 373.6L515.2 372.4L516 375.3L516.8 379.6L517.44 379.78L518.08 379.22L518.72 377.77L519.36 377.79L520 378L520.64 376.81L521.28 374.92L521.92 374.65L522.56 373.61L523.2 372.4L523.84 376.32L524.48 381.04L525.12 385.88L525.76 388.68L526.4 393.2L527.2 395.86L528 397.75L528.8 400.4L529.44 399.49L530.08 397.57L530.72 395.12L531.36 393.02L532 391.6L532.8 392.57L533.6 392.63L534.4 393.2L535.04 391.88L535.68 391.37L536.32 391.19L536.96 391.74L537.6 390L538.24 391.08L538.88 391.73L539.52 391.96L540.16 392.68L540.8 392.4L541.47 392.57L542.13 390.46L542.8 390.74L543.47 390.08L544.13 389.34L544.8 388.4L545.44 389.11L546.08 388.26L546.72 389.94L547.36 389.57L548 390.8L548.69 391.44L549.37 390.74L550.06 390.99L550.74 391.23L551.43 390.27L552.11 391.39L552.8 391.6L553.6 390.63L554.4 391.59L555.2 390.8L556 385.71L556.8 380.57L557.6 376.4L558.4 377.08L559.2 376.4L560 379.43L560.8 382.26L561.6 386L562.4 386.74L563.2 387.49L564 388.4L564.67 388.39L565.33 387.58L566 388.59L566.67 388.04L567.33 388.63L568 387.6L568.67 388.04L569.33 387.32L570 388.58L570.67 387.99L571.33 388.32L572 388.4L572.67 387.17L573.33 387.44L574 388.76L574.67 388.47L575.33 386.77L576 387.6L576.67 387.52L577.33 387.26L578 387.49L578.67 385.93L579.33 385.31L580 386L580.64 385.69L581.28 384.68L581.92 384.24L582.56 383.59L583.2 383.6L583.84 388.13L584.48 390.81L585.12 395.66L585.76 399.31L586.4 402.8L587.2 403.51L588 405.48L588.8 406L589.4 405.71L590 404L590.62 404.96L591.25 405.38L591.88 406.68L592.5 407L593.25 405.22L594 404.53L594.75 403.73L595.5 401.5L596.25 399.77L597 398.51L597.75 398.91L598.5 397.5L599.17 397.86L599.83 398.92L600.5 400L601.12 399.59L601.75 398.67L602.38 398.58L603 398L603.75 397.59L604.5 397.96L605.25 398.33L606 398.5L606.62 399.19L607.25 399.03L607.88 399.82L608.5 400L609.25 402.34L610 404L610.62 402.41L611.25 400.2L611.88 399.1L612.5 396.5L613.17 395.58L613.83 396.09L614.5 395L615.12 396.93L615.75 398.25L616.38 398.85L617 400.5L617.75 399.67L618.5 398.03L619.25 395.77L620 395L620.62 395.97L621.25 396.54L621.88 398.6L622.5 399.5L623.12 399.41L623.75 398.27L624.38 396.34L625 396L625.67 394.63L626.33 394.24L627 393.5L627.67 394.1L628.33 395.26L629 395.5L629.67 394.5L630.33 394.47L631 393L631.67 394.56L632.33 397.25L633 398.5L633.75 398.47L634.5 400L635.12 398.34L635.75 397.29L636.38 396.35L637 394.5L637.75 395.81L638.5 396.04L639.25 396.8L640 398.5L640.67 397.34L641.33 396.14L642 395L642.6 393.97L643.2 393.34L643.8 392.5L644.53 392.79L645.27 394.8L646 395.5L646.75 400.31L647.5 404L648.25 407.53L649 412L649.75 411.8L650.5 413.19L651.25 413.36L652 413L652.62 411.08L653.25 409.65L653.88 407.56L654.5 407L655.2 407.99L655.9 408.53L656.6 409.13L657.3 410.9L658 410.5L658.7 409.62L659.4 408.86L660.1 408.26L660.8 407.22L661.5 406.5L662.17 407.63L662.83 407.43L663.5 408L664.25 407.22L665 407.35L665.75 405.08L666.5 404.5L667.12 403.74L667.75 404.36L668.38 403.81L669 404L669.67 400.34L670.33 397.48L671 394L671.67 394.82L672.33 393.85L673 395L673.67 398.41L674.33 400.9L675 405.5L675.75 406.77L676.5 406.45L677.25 408.12L678 408.5L678.67 407.17L679.33 404.58L680 401.5L680.67 401.24L681.33 399.42L682 400L682.62 402.3L683.25 402.28L683.88 404.19L684.5 405L685.17 405.56L685.83 406.54L686.5 407.5L687.2 407.49L687.9 404.79L688.6 404.13L689.3 403.74L690 403L690.75 404.21L691.5 403.15L692.25 405.57L693 405.5L693.75 403.4L694.5 402.14L695.25 400.98L696 398L696.75 400.28L697.5 402.61L698.25 404.76L699 406L699.75 404.59L700.5 403.58L701.25 402.16L702 401L702.67 401.79L703.33 402.17L704 403L704.67 401.39L705.33 400.01L706 399" stroke="#2ca02c"/>
<path d="M96.75 85L97.2 100L98.5 150L100.5 175L101.27 180.42L102.03 184.27L102.8 190L103.44 194.22L104.08 199.08L104.72 201.72L105.36 205.68L106 210.8L106.67 212.78L107.33 213.56L108 215.2L108.67 217.55L109.33 218.97L110 220.4L110.8 222.16L111.6 224.49L112.4 226.8L114 239.6L114.8 237.72L115.6 237.15L116.4 236.4L117.04 237.96L117.68 239.9L118.32 241.53L118.96 243.76L119.6 244.4L120.4 244.76L121.2 245.2L122 248.68L122.8 251.22L123.6 254L124.24 253.62L124.88 254.5L125.52 254.68L126.16 255.01L126.8 254.8L127.44 254.76L128.08 254.24L128.72 253.35L129.36 253.35L130 253.2L130.67 255.49L131.33 257.83L132 260.05L132.67 261.93L133.33 264.22L134 266L134.64 266.63L135.28 265.8L135.92 265.23L136.56 264.58L137.2 265.2L137.87 266.15L138.53 267.41L139.2 267.79L139.87 269.75L140.53 269.39L141.2 270.8L141.87 271.13L142.53 271.84L143.2 271.71L143.87 273.48L144.53 273.05L145.2 274L145.89 273.11L146.57 272.53L147.26 273.81L147.94 273.78L148.63 272.29L149.31 271.83L150 272.4L150.67 273.07L151.33 274.24L152 274.89L152.67 276.38L153.33 276.46L154 278L154.64 279.42L155.28 278.82L155.92 279.5L156.56 279.04L157.2 279.6L157.9 281.92L158.6 284.1L159.3 284.59L160 286.86L160.7 289.14L161.4 290.62L162.1 291.73L162.8 294L163.51 293.2L164.22 293.25L164.93 292.58L165.64 291.5L166.36 291.51L167.07 289.7L167.78 290.3L168.49 290.26L169.2 289.2L169.89 291.42L170.57 292.39L171.26 294.48L171.94 296.18L172.63 297.7L173.31 299.03L174 301.2L174.8 300.93L175.6 301.91L176.4 302.8L177.2 301.56L178 300.63L178.8 301.2L179.47 301.27L180.13 299.26L180.8 299.15L181.47 298.61L182.13 297.46L182.8 298L183.47 299.13L184.13 299.06L184.8 302.04L185.47 301.35L186.13 302.74L186.8 304.4L187.5 304.95L188.2 305.77L188.9 306.64L189.6 308.07L190.3 309.02L191 310.3L191.7 309.32L192.4 310.8L193.07 310.32L193.73 309.06L194.4 307.46L195.07 305.84L195.73 306.57L196.4 304.4L197.04 306.55L197.68 306.33L198.32 309.6L198.96 310.46L199.6 311.6L200.24 312.1L200.88 312.73L201.52 312.27L202.16 312.85L202.8 313.2L203.4 314.57L204 314.8L204.64 313.88L205.28 313.44L205.92 312.94L206.56 313.97L207.2 313.2L208 313.44L208.8 314.63L209.6 315.6L210.27 315.08L210.93 315.42L211.6 315.02L212.27 314.1L212.93 315.07L213.6 314L214.24 315.22L214.88 316.13L215.52 316.66L216.16 317.67L216.8 318.8L217.44 320.12L218.08 321.71L218.72 323.37L219.36 324.81L220 326L220.64 325.55L221.28 325.3L221.92 325.44L222.56 325.4L223.2 324.4L223.87 326.31L224.53 326.8L225.2 327.31L225.87 329.3L226.53 330.51L227.2 331.6L227.87 330.59L228.53 329.77L229.2 328.14L229.87 327.41L230.53 325.17L231.2 325.2L231.84 327L232.48 326.83L233.12 327.43L233.76 328.7L234.4 329.2L235.07 329.61L235.73 329.87L236.4 331.27L237.07 331.37L237.73 331.5L238.4 332.4L239.07 331.99L239.73 331.05L240.4 330.22L241.07 329.04L241.73 329L242.4 327.6L243.04 328.39L243.68 330.63L244.32 332.29L244.96 332.22L245.6 334L246.27 333.86L246.93 332.48L247.6 333.22L248.27 331.99L248.93 331.93L249.6 332.4L250.29 332.85L250.97 333.68L251.66 333.71L252.34 333.65L253.03 333.68L253.71 334.46L254.4 334.8L255.07 335.1L255.73 333.98L256.4 331.66L257.07 331.2L257.73 330L258.4 330L259.07 331.11L259.73 331.44L260.4 331.54L261.07 333.1L261.73 333.73L262.4 334.8L263.04 333.73L263.68 333.64L264.32 333.84L264.96 332.36L265.6 332.4L266.24 332.52L266.88 332.24L267.52 333.13L268.16 334.43L268.8 334L269.6 332.97L270.4 330.93L271.2 330L271.84 330.46L272.48 332.29L273.12 332.33L273.76 332.92L274.4 334L275.04 334.64L275.68 333.78L276.32 333.61L276.96 334.24L277.6 334L278.27 335.96L278.93 339.11L279.6 341.59L280.27 344.77L280.93 347.3L281.6 350L282.24 350.57L282.88 349.46L283.52 348.61L284.16 348.44L284.8 347.6L285.44 348.16L286.08 349.07L286.72 349.89L287.36 350.46L288 350.8L288.67 351.36L289.33 350.62L290 349.66L290.67 349.93L291.33 348.89L292 349.2L292.67 350.83L293.33 349.28L294 350.78L294.67 351.66L295.33 351.39L296 352.4L296.67 352.34L297.33 353.28L298 352.17L298.67 353.48L299.33 352.98L300 353.2L300.67 352.24L301.33 352.7L302 351.27L302.67 350.25L303.33 349.1L304 348.4L304.64 348.86L305.28 348.98L305.92 350.41L306.56 349.83L307.2 350L307.84 349.15L308.48 348.8L309.12 348.82L309.76 347.51L310.4 347.6L311.07 347.49L311.73 347.28L312.4 347.3L313.07 349.77L313.73 348.86L314.4 349.2L315.04 349.9L315.68 348.92L316.32 348.45L316.96 347.36L317.6 347.6L318.27 348.56L318.93 349.61L319.6 349.95L320.27 351.78L320.93 353L321.6 353.2L322.27 352.98L322.93 352.3L323.6 350.71L324.27 352.17L324.93 351L325.6 350L326.24 348.6L326.88 347.81L327.52 347.28L328.16 346.3L328.8 346L329.44 346.71L330.08 346.85L330.72 348.04L331.36 348.36L332 349.2L332.7 349L333.4 348.39L334.1 349.05L334.8 349L335.5 348.3L336.2 347.73L336.9 348.58L337.6 348.4L338.4 348.25L339.2 349.6L340 350.8L340.8 355.9L341.6 361.14L342.4 365.2L343.2 365.61L344 366.49L344.8 366.8L345.44 366.91L346.08 364.97L346.72 364.67L347.36 364.43L348 363.6L348.64 365.65L349.28 365.53L349.92 366.8L350.56 369.29L351.2 370L351.84 369.26L352.48 366.8L353.12 365.74L353.76 364.8L354.4 362.8L355.07 363.24L355.73 362.83L356.4 364.54L357.07 365.48L357.73 364.78L358.4 366L359.04 366.26L359.68 364.88L360.32 363.57L360.96 364.21L361.6 363.6L362.24 363.4L362.88 365.65L363.52 365.8L364.16 367.16L364.8 366.8L365.47 365.48L366.13 366.08L366.8 366.42L367.47 365.88L368.13 365.16L368.8 364.4L369.44 364.78L370.08 365.09L370.72 365.45L371.36 366.05L372 365.2L372.67 364.36L373.33 364.91L374 365.29L374.67 365.86L375.33 366.09L376 366L376.64 365.33L377.28 365.01L377.92 364.99L378.56 364.76L379.2 363.6L379.89 362.82L380.57 362.77L381.26 362.61L381.94 363.33L382.63 361.52L383.31 361.72L384 361.2L384.67 362.03L385.33 362.57L386 364.13L386.67 364.36L387.33 364.93L388 366L388.64 365.4L389.28 364.87L389.92 363.72L390.56 363.03L391.2 362.8L391.84 363.9L392.48 363.43L393.12 364.74L393.76 364.62L394.4 365.2L395.07 364.45L395.73 364.02L396.4 363.43L397.07 364.49L397.73 364.2L398.4 363.6L399.2 366.01L400 368.3L400.8 371.6L401.44 373.02L402.08 375.16L402.72 377.54L403.36 378.23L404 380.4L404.67 379.42L405.33 380.47L406 380.15L406.67 379.88L407.33 379.3L408 380.4L408.64 380.5L409.28 380.81L409.92 379.29L410.56 378.86L411.2 379.6L411.84 379.86L412.48 380.64L413.12 381.74L413.76 382.14L414.4 382.8L415.07 380.84L415.73 381L416.4 380.08L417.07 378.68L417.73 378.21L418.4 377.2L419.2 375.55L420 375.6L420.64 376.11L421.28 376.35L421.92 377.9L422.56 379.13L423.2 379.6L423.84 378.34L424.48 379.2L425.12 379.44L425.76 379.01L426.4 378.8L427.04 379.77L427.68 379L428.32 380.38L428.96 379.41L429.6 379.6L430.24 378.69L430.88 379.12L431.52 378.67L432.16 379.56L432.8 378.8L433.44 379.8L434.08 380L434.72 379.65L435.36 379.31L436 379.6L436.67 379.09L437.33 378.65L438 379.52L438.67 378.32L439.33 378.74L440 378.8L440.67 378.74L441.33 378.73L442 377.57L442.67 377.52L443.33 377.43L444 378L444.69 378.54L445.37 377.54L446.06 377.79L446.74 378.74L447.43 379.04L448.11 379.69L448.8 378.8L449.44 378.27L450.08 378.32L450.72 376.34L451.36 377.2L452 376.4L452.8 378.72L453.6 380.65L454.4 382L455.04 381.07L455.68 381.49L456.32 380.97L456.96 379.44L457.6 378.8L458.4 379.62L459.2 380.21L460 381.2L460.8 380.49L461.6 380.13L462.4 379.6L463.2 383.95L464 388.96L464.8 394.8L465.44 395.12L466.08 395.46L466.72 396.76L467.36 396.59L468 397.2L468.8 397.72L469.6 398.33L470.4 400.4L471.2 396.6L472 393.2L472.8 393.39L473.6 393.78L474.4 395.6L475.2 395.85L476 392.91L476.8 393.2L477.44 393.95L478.08 393.98L478.72 392.78L479.36 392.31L480 392.4L480.67 392.91L481.33 392.17L482 392.91L482.67 393.36L483.33 392.37L484 393.2L484.64 394.07L485.28 393.25L485.92 393.37L486.56 393.94L487.2 393.2L487.84 392.75L488.48 393.15L489.12 394.33L489.76 394.7L490.4 394.8L491.04 394.36L491.68 394.11L492.32 393.71L492.96 392.99L493.6 393.2L494.24 391.68L494.88 391.19L495.52 390.87L496.16 390.25L496.8 389.2L497.6 389.3L498.4 391.76L499.2 391.6L499.84 391.9L500.48 390.12L501.12 388.75L501.76 388.3L502.4 387.6L503.07 388.84L503.73 389.15L504.4 391.05L505.07 390.64L505.73 392.12L506.4 392.4L507.04 392.18L507.68 392.54L508.32 391.19L508.96 390.75L509.6 390L510.24 389.69L510.88 390.18L511.52 389.75L512.16 391.74L512.8 390.8L513.44 390.52L514.08 390.05L514.72 389.86L515.36 389.75L516 389.2L516.69 389.06L517.37 387.31L518.06 388.55L518.74 387.42L519.43 386.89L520.11 387.47L520.8 386L521.6 389.63L522.4 392.5L523.2 396.4L524 399.93L524.8 404.85L525.6 408.4L526.24 408.61L526.88 408.81L527.52 408.17L528.16 409.14L528.8 409.2L529.6 407.77L530.4 406.63L531.2 406L532 407.26L532.8 407.24L533.6 407.6L534.29 407L534.97 407.25L535.66 407.29L536.34 404.94L537.03 405.85L537.71 405.01L538.4 404.4L539.04 404.69L539.68 405.83L540.32 405.84L540.96 405.44L541.6 406L542.27 406.05L542.93 404.57L543.6 404L544.27 402.61L544.93 402.7L545.6 402L546.4 403.14L547.2 403.43L548 404.4L548.64 404.11L549.28 404.48L549.92 403.37L550.56 402.78L551.2 402.8L551.9 404.06L552.6 403.01L553.3 402.6L554 403.29L554.7 404.16L555.4 403.93L556.1 404.27L556.8 405.2L557.44 405.09L558.08 405.42L558.72 405.54L559.36 405.84L560 406L560.64 405.65L561.28 405.18L561.92 403.79L562.56 402.54L563.2 401.2L563.84 400.67L564.48 400.94L565.12 400.14L565.76 400.56L566.4 400.4L567.2 399.27L568 399.95L568.8 398.8L569.44 400.38L570.08 400.31L570.72 401.34L571.36 400.11L572 401.2L572.64 402.18L573.28 402.11L573.92 402.75L574.56 402.53L575.2 403.6L575.84 402.78L576.48 401.96L577.12 400.82L577.76 401.05L578.4 399.6L579.04 399.39L579.68 399L580.32 397.4L580.96 396.69L581.6 396.4L582.4 397.89L583.2 401.14L584 402.8L584.8 406.29L585.6 408.66L586.4 411.6L587.04 411.69L587.68 412.62L588.32 413.32L588.96 413.83L589.6 414L590 412L590.62 412.5L591.25 413.89L591.88 414.61L592.5 414.5L593.2 413.52L593.9 413.69L594.6 413.06L595.3 411.79L596 412L596.67 412.12L597.33 412.99L598 413.93L598.67 413.29L599.33 413.88L600 414.5L600.62 413.15L601.25 411.78L601.88 409.96L602.5 409.5L603.17 409.15L603.83 407.72L604.5 407L605.17 409.26L605.83 411.39L606.5 413L607.12 413.4L607.75 413.72L608.38 414.5L609 415.5L609.75 414.35L610.5 413.3L611.25 412.72L612 412L612.75 410.72L613.5 410.76L614.25 410.18L615 410L615.75 410.77L616.5 411.54L617.25 412.89L618 412.5L618.67 413.09L619.33 412.73L620 412.28L620.67 412.23L621.33 412.32L622 412L622.67 411.57L623.33 411.39L624 410.56L624.67 410.91L625.33 409.86L626 410L626.67 410.19L627.33 410.56L628 412.35L628.67 411.77L629.33 412.66L630 412.5L630.62 410.47L631.25 410.11L631.88 408.25L632.5 407L633.12 408.05L633.75 407.82L634.38 407.9L635 409L635.75 409.09L636.5 408.31L637.25 407.18L638 407.5L638.7 407.18L639.4 406.41L640.1 407.02L640.8 406.38L641.5 406L642.25 407.24L643 407.51L643.75 409.78L644.5 410L645.12 411.72L645.75 414.21L646.38 415.91L647 418L647.67 419.42L648.33 420.03L649 422L649.75 422.21L650.5 422.51L651.25 421.71L652 422.5L652.67 423.03L653.33 421.83L654 421.98L654.67 421.86L655.33 422.77L656 422L656.67 421.92L657.33 422.14L658 422.72L658.67 422.79L659.33 423.51L660 423L660.62 422.06L661.25 421.2L661.88 420.35L662.5 420L663.25 418.47L664 418.18L664.75 416.94L665.5 415.5L666.2 415.95L666.9 416.66L667.6 416.2L668.3 418.4L669 418.5L669.75 418.79L670.5 417.4L671.25 418.23L672 418.5L672.75 418.98L673.5 420.33L674.25 420.18L675 420.5L675.75 420.6L676.5 420.16L677.25 419.07L678 418L678.75 417.14L679.5 416.55L680.25 416.75L681 416.5L681.67 416.63L682.33 416.11L683 415.5L683.75 415.32L684.5 416.94L685.25 416.54L686 417.5L686.7 416.23L687.4 415.9L688.1 414.31L688.8 412.85L689.5 412L690.12 412.37L690.75 413.58L691.38 414.44L692 415L692.7 415.36L693.4 415.42L694.1 416.5L694.8 417.11L695.5 417L696.17 416.01L696.83 416.57L697.5 415.46L698.17 415.24L698.83 415.49L699.5 414.5L700.2 414.26L700.9 415.28L701.6 416.68L702.3 416.95L703 416.5L703.7 416.44L704.4 416.35L705.1 417.85L705.8 417.48L706.5 417.5" stroke="#d62728"/>
</g>
<rect x="66.5" y="37.5" width="671" height="405" fill="none" stroke="#000" stroke-width="1"/>
<rect x="618.5" y="44.5" width="112" height="88" rx="2.8" ry="2.8" fill="#fff" fill-opacity="0.8" stroke="#ccc" stroke-opacity="0.8" stroke-width="1.39"/>
<path d="M623 56H651" stroke="#1f77b4" stroke-width="2" stroke-linecap="square" fill="none"/>
<path d="M623 77H651" stroke="#ff7f0e" stroke-width="2" stroke-linecap="square" fill="none"/>
<path d="M623 98H651" stroke="#2ca02c" stroke-width="2" stroke-linecap="square" fill="none"/>
<path d="M623 119H651" stroke="#d62728" stroke-width="2" stroke-linecap="square" fill="none"/>
<clipPath id="clip1"><rect x="809.5" y="37.5" width="670" height="405"/></clipPath>
<path d="M839.5 442.5V37.5M964.5 442.5V37.5M1089.5 442.5V37.5M1214.5 442.5V37.5M1339.5 442.5V37.5M1464.5 442.5V37.5M809.5 392.5H1479.5M809.5 305.5H1479.5M809.5 218.5H1479.5M809.5 132.5H1479.5M809.5 45.5H1479.5" stroke="#b0b0b0" stroke-width="1" fill="none"/>
<path d="M839.5 442.5v5M964.5 442.5v5M1089.5 442.5v5M1214.5 442.5v5M1339.5 442.5v5M1464.5 442.5v5M809.5 392.5h-5M809.5 305.5h-5M809.5 218.5h-5M809.5 132.5h-5M809.5 45.5h-5" stroke="#000" stroke-width="1" fill="none"/>
<g clip-path="url(#clip1)" fill="none" stroke-width="2.08" stroke-linejoin="round" stroke-linecap="square">
<path d="M839.28 369.04L840.4 350L841.2 345.2L842 339.35L842.8 334L843.6 331.78L844.4 330.8L846.8 308.4L847.6 305.96L848.4 302.56L849.2 298.8L850 299.16L850.8 301.2L851.6 296.91L852.4 292.29L853.2 289.2L853.84 284.78L854.48 283.9L855.12 278.84L855.76 276.3L856.4 272.4L857.2 273.86L858 274.8L858.8 275.65L859.6 276.4L860.29 273.97L860.97 272.39L861.66 271.95L862.34 270.9L863.03 266.93L863.71 266.05L864.4 265.2L865.04 264.72L865.68 265.4L866.32 264.67L866.96 264.57L867.6 263.6L868.4 264.59L869.2 264.44L870 266L870.8 259.76L871.6 254.75L872.4 247.6L873.07 249.07L873.73 249.29L874.4 252.73L875.07 253.3L875.73 254.85L876.4 255.6L877.2 251.97L878 245.2L878.64 245.88L879.28 246.9L879.92 246.96L880.56 249.8L881.2 250.8L881.89 248.54L882.57 245.3L883.26 242.58L883.94 240.58L884.63 237.42L885.31 234.67L886 231.6L886.8 235.28L887.6 239.03L888.4 242.8L889.2 245.23L890 246L890.67 243.92L891.33 241.66L892 239.56L892.67 237.9L893.33 236.15L894 234L894.8 233.88L895.6 233.04L896.4 232.4L897.2 229.47L898 225.76L898.8 224.4L899.6 222.76L900.4 219.34L901.2 218L901.97 214.37L902.73 211.95L903.5 207.5L904.12 208.83L904.75 209.1L905.38 211.44L906 212L906.75 212.54L907.5 213.11L908.25 215.25L909 215L909.67 215.54L910.33 216.6L911 214.14L911.67 215.01L912.33 215.35L913 215L913.75 215.56L914.5 213.8L915.25 214.77L916 213L916.67 212.3L917.33 210.77L918 210.39L918.67 209.65L919.33 208.75L920 208L920.62 206.8L921.25 206.36L921.88 206.56L922.5 205L923.17 204.57L923.83 204.21L924.5 201.5L925.25 202.49L926 203.94L926.75 207.97L927.5 208L928.12 206.59L928.75 204.85L929.38 202.1L930 201L930.75 199.6L931.5 197.58L932.25 195.8L933 194L933.62 195.98L934.25 195.38L934.88 197.15L935.5 198L936.12 199.37L936.75 203.87L937.38 205.38L938 209L938.62 207.71L939.25 202.43L939.88 202.06L940.5 198L941.12 196.34L941.75 194.72L942.38 195.18L943 194L943.62 195.19L944.25 195.24L944.88 195.99L945.5 198L946.17 198.07L946.83 201.07L947.5 203L948.12 201.02L948.75 196.9L949.38 196.36L950 194L950.62 193.66L951.25 189.34L951.88 189.58L952.5 187.5L953.17 188.61L953.83 188.34L954.5 189.5L955.17 193.26L955.83 195.62L956.5 200L959 178L959.75 176.36L960.5 175.29L961.25 171.73L962 170L962.67 170.5L963.33 170.4L964 173L964.75 173.75L965.5 173L966.25 170.35L967 170L967.67 169.41L968.33 168.59L969 168L969.75 169.84L970.5 168.24L971.25 170.79L972 171L972.75 170.15L973.5 173.02L974.25 172.65L975 174L975.75 174.92L976.5 174.19L977.25 173.14L978 173.5L978.75 172.66L979.5 172.04L980.25 174.1L981 172.5L981.7 174.65L982.4 174.62L983.1 175.33L983.8 178.1L984.5 179L985.25 176.89L986 174.36L986.75 172.72L987.5 170.5L988.12 172.16L988.75 172.73L989.38 174.37L990 175L990.75 174.75L991.5 174.72L992.25 173.82L993 174L993.75 174.76L994.5 174.37L995.25 174.13L996 174.5L996.75 173.53L997.5 172.06L998.25 170.97L999 170L999.75 170.67L1000.5 171.2L1001.25 169.45L1002 171L1002.75 171.35L1003.5 172.07L1004.25 171.6L1005 173L1005.75 171.85L1006.5 169.81L1007.25 168.07L1008 167L1008.75 166.58L1009.5 167.84L1010.25 170.07L1011 171L1011.75 173.06L1012.5 171.92L1013.25 171.28L1014 173.5L1014.75 173.12L1015.5 170.89L1016.25 170.31L1017 168L1017.68 166.38L1018.36 166.45L1019.04 164.92L1019.72 162.52L1020.4 162.4L1021.2 157.32L1022 152.9L1022.8 148L1023.6 145.7L1024.4 145.76L1025.2 143.2L1026 144.48L1026.8 147.11L1027.6 148L1028.4 148.34L1029.2 149.59L1030 149.6L1030.64 150.06L1031.28 148.08L1031.92 149.41L1032.56 150.19L1033.2 149.6L1033.89 148.87L1034.57 149.9L1035.26 149.28L1035.94 147.16L1036.63 147.47L1037.31 147.32L1038 146.4L1038.64 146.04L1039.28 148.07L1039.92 147.54L1040.56 147.13L1041.2 147.2L1042 149.39L1042.8 152.8L1043.44 151.81L1044.08 151.58L1044.72 152.49L1045.36 150.85L1046 151.2L1046.64 152.09L1047.28 153.12L1047.92 150.62L1048.56 151.34L1049.2 152L1049.84 153.07L1050.48 152.56L1051.12 151.8L1051.76 152.6L1052.4 152.8L1053.04 153.26L1053.68 154.36L1054.32 153.55L1054.96 154.51L1055.6 155.2L1056.24 153.98L1056.88 153.25L1057.52 151.67L1058.16 149.55L1058.8 149.6L1059.44 149.04L1060.08 151.54L1060.72 150.66L1061.36 151.61L1062 152L1062.64 152.03L1063.28 152.31L1063.92 153.1L1064.56 152.04L1065.2 152L1065.84 152.01L1066.48 151.14L1067.12 150.3L1067.76 148.57L1068.4 148.8L1069.04 149.58L1069.68 151.8L1070.32 151.92L1070.96 153.01L1071.6 154.4L1072.24 154.67L1072.88 154.41L1073.52 155.19L1074.16 156.49L1074.8 156.8L1075.44 155.14L1076.08 153.87L1076.72 154.5L1077.36 153.62L1078 152L1078.64 151.48L1079.28 150.25L1079.92 151.35L1080.56 150.42L1081.2 149.6L1081.84 144.18L1082.48 140.52L1083.12 135.96L1083.76 131.36L1084.4 128.8L1085.04 129.01L1085.68 128.33L1086.32 124.8L1086.96 126.01L1087.6 124.8L1088.24 125.92L1088.88 127.53L1089.52 129.25L1090.16 130.55L1090.8 131.2L1091.47 131.02L1092.13 130.43L1092.8 131.25L1093.47 132.03L1094.13 129.45L1094.8 130.4L1095.47 130L1096.13 130.73L1096.8 130.45L1097.47 131.08L1098.13 132.39L1098.8 132L1099.44 133.04L1100.08 133.4L1100.72 134.32L1101.36 134.54L1102 136L1102.67 135.87L1103.33 134.19L1104 133.05L1104.67 132.82L1105.33 132.58L1106 132L1106.67 132.97L1107.33 131.62L1108 131.18L1108.67 133.07L1109.33 131.23L1110 131.2L1110.67 132.43L1111.33 132.03L1112 132.45L1112.67 131.29L1113.33 132.74L1114 132.8L1114.67 132.73L1115.33 132.62L1116 134.2L1116.67 134.16L1117.33 134.78L1118 135.2L1118.67 134.82L1119.33 131.47L1120 132L1120.67 132.38L1121.33 131.16L1122 131.31L1122.67 132.91L1123.33 132.8L1124 133.6L1124.67 132.4L1125.33 134.15L1126 134.77L1126.67 136.01L1127.33 136.24L1128 136L1128.67 135.39L1129.33 133.81L1130 134.47L1130.67 134.58L1131.33 134.37L1132 133.6L1132.67 133.79L1133.33 132.78L1134 132.58L1134.67 131.46L1135.33 131.21L1136 131.2L1136.67 131.51L1137.33 131.81L1138 130.14L1138.67 130.73L1139.33 130.93L1140 131.2L1140.64 130.18L1141.28 128.24L1141.92 128.48L1142.56 125.51L1143.2 124L1144 118.05L1144.8 113.12L1145.6 108L1146.24 106.57L1146.88 105.92L1147.52 105.31L1148.16 105.27L1148.8 103.2L1149.44 105.21L1150.08 105.52L1150.72 105.21L1151.36 107.37L1152 108L1152.64 107.17L1153.28 107.55L1153.92 107.84L1154.56 107.28L1155.2 107.2L1155.84 110.24L1156.48 110.05L1157.12 111.2L1157.76 112.72L1158.4 114.4L1159.04 117.01L1159.68 116.9L1160.32 119.72L1160.96 121.12L1161.6 124L1162.4 118.62L1163.2 112.39L1164 108.8L1164.64 109.74L1165.28 111.96L1165.92 111.92L1166.56 114.65L1167.2 115.2L1167.84 114.05L1168.48 113.98L1169.12 112.71L1169.76 113.58L1170.4 112.8L1171.04 113.38L1171.68 113.44L1172.32 114.37L1172.96 113.59L1173.6 114.4L1174.24 116.2L1174.88 115.38L1175.52 115.1L1176.16 115.98L1176.8 116.8L1177.47 116.65L1178.13 115.75L1178.8 115.85L1179.47 117.99L1180.13 117.11L1180.8 116.8L1181.44 118.3L1182.08 120L1182.72 119.69L1183.36 119.33L1184 120.8L1184.64 121.59L1185.28 120.52L1185.92 122.17L1186.56 121.93L1187.2 121.6L1187.87 122.23L1188.53 120.38L1189.2 119.39L1189.87 120.77L1190.53 120.85L1191.2 120L1191.84 120.67L1192.48 120.96L1193.12 121.62L1193.76 122.21L1194.4 123.2L1195.04 123.32L1195.68 121.43L1196.32 121.99L1196.96 122.37L1197.6 121.6L1198.4 122.09L1199.2 122.24L1200 123.2L1200.8 123.63L1201.6 125.09L1202.4 125.6L1203.2 121.89L1204 115.82L1204.8 112.8L1205.6 109.87L1206.4 103.98L1207.2 99.2L1207.84 98.96L1208.48 97.96L1209.12 98.07L1209.76 99.1L1210.4 98.4L1211.07 98.53L1211.73 96.59L1212.4 97.19L1213.07 97.63L1213.73 96.86L1214.4 97.6L1215.04 98.96L1215.68 98.41L1216.32 97.15L1216.96 96.26L1217.6 97.6L1218.24 97.44L1218.88 96.87L1219.52 96.65L1220.16 95.93L1220.8 96.8L1221.44 97.87L1222.08 97.94L1222.72 99.52L1223.36 99.9L1224 100L1224.64 100.2L1225.28 101.28L1225.92 101.29L1226.56 102.55L1227.2 103.2L1227.84 102.95L1228.48 104.9L1229.12 103.52L1229.76 105.93L1230.4 106.4L1231.07 105.6L1231.73 105.54L1232.4 103.55L1233.07 103.76L1233.73 103.46L1234.4 102.4L1235.07 102.63L1235.73 103.22L1236.4 103.48L1237.07 103.57L1237.73 103.92L1238.4 104.8L1239.04 104.03L1239.68 105.85L1240.32 106.17L1240.96 107.87L1241.6 107.2L1242.24 105.84L1242.88 107.07L1243.52 106.08L1244.16 103.04L1244.8 104L1245.44 103.4L1246.08 104.01L1246.72 102.47L1247.36 102.58L1248 101.6L1248.64 102.78L1249.28 101.91L1249.92 103.32L1250.56 103.36L1251.2 104L1251.84 105.25L1252.48 103.04L1253.12 104.61L1253.76 104.33L1254.4 105.6L1255.04 105.73L1255.68 106.49L1256.32 106.69L1256.96 106.75L1257.6 107.2L1258.24 107.5L1258.88 105.89L1259.52 106.88L1260.16 105.92L1260.8 105.6L1261.44 105.68L1262.08 107.96L1262.72 109.17L1263.36 110.1L1264 111.2L1264.8 106.99L1265.6 104.73L1266.4 101.6L1267.2 99.69L1268 96.11L1268.8 91.2L1269.44 90.11L1270.08 90.35L1270.72 89.77L1271.36 88.72L1272 89.6L1272.64 88.21L1273.28 89.1L1273.92 90.01L1274.56 89.61L1275.2 88.8L1275.84 89.38L1276.48 89.61L1277.12 87.24L1277.76 87.26L1278.4 87.2L1279.04 86.04L1279.68 87.17L1280.32 87.88L1280.96 88.64L1281.6 88L1282.24 86.85L1282.88 87.06L1283.52 87.25L1284.16 87.06L1284.8 87.2L1285.44 85.99L1286.08 87.85L1286.72 87.27L1287.36 87.43L1288 88L1288.64 87.51L1289.28 88.08L1289.92 87.88L1290.56 88.4L1291.2 88.8L1291.87 90.06L1292.53 89.44L1293.2 90.22L1293.87 90.32L1294.53 89.56L1295.2 91.2L1295.87 89.5L1296.53 91.25L1297.2 90.1L1297.87 90.39L1298.53 89.87L1299.2 90.4L1299.87 89.81L1300.53 92.43L1301.2 93.6L1301.87 93.52L1302.53 92L1303.2 93.6L1303.87 93.02L1304.53 93.5L1305.2 92.2L1305.87 92.81L1306.53 93.08L1307.2 92.8L1307.84 95.13L1308.48 93.38L1309.12 95.67L1309.76 95.64L1310.4 97.6L1311.07 96.13L1311.73 98.29L1312.4 96.4L1313.07 97.77L1313.73 98.79L1314.4 98.4L1315.07 99.12L1315.73 99.41L1316.4 101.16L1317.07 100.62L1317.73 101.12L1318.4 102.4L1319.07 102.84L1319.73 101.36L1320.4 100.11L1321.07 99.26L1321.73 99.25L1322.4 99.2L1323.04 99.34L1323.68 97.43L1324.32 97.33L1324.96 97.73L1325.6 96L1326.4 93.61L1327.2 87.92L1328 85.6L1328.67 84.49L1329.33 79.93L1330 79.5L1330.75 80.04L1331.5 78.61L1332.25 79.25L1333 80L1333.75 78.38L1334.5 77.15L1335.25 76.54L1336 75.5L1336.75 75.45L1337.5 77.63L1338.25 76.35L1339 77L1339.67 77.11L1340.33 79.06L1341 80L1341.67 79.2L1342.33 79.59L1343 79.5L1343.75 80.17L1344.5 81.71L1345.25 83.09L1346 84L1346.67 84.39L1347.33 84.51L1348 83.75L1348.67 82.86L1349.33 82.24L1350 82.5L1350.75 81.56L1351.5 83.59L1352.25 82.09L1353 82.5L1353.75 83.28L1354.5 84.83L1355.25 86.45L1356 87L1356.75 87.43L1357.5 85.88L1358.25 83.72L1359 84L1359.75 84.12L1360.5 83.27L1361.25 82.72L1362 83L1362.75 84.75L1363.5 84.81L1364.25 85.91L1365 87L1365.75 87.06L1366.5 86.32L1367.25 85.89L1368 85L1368.67 85.32L1369.33 84.83L1370 85.5L1370.75 85.64L1371.5 86.59L1372.25 87.32L1373 88L1373.75 88.19L1374.5 85.86L1375.25 86.53L1376 86L1376.75 84.53L1377.5 87.15L1378.25 86.92L1379 86.5L1379.75 86.07L1380.5 86.3L1381.25 86.71L1382 87L1382.75 86.35L1383.5 87.31L1384.25 87.96L1385 87.5L1385.62 85.67L1386.25 85.69L1386.88 84.08L1387.5 84L1388.17 82.05L1388.83 76.67L1389.5 75L1390.17 72.03L1390.83 70.12L1391.5 67.5L1392.12 67.27L1392.75 66.44L1393.38 67.02L1394 66.5L1394.62 66.61L1395.25 67.95L1395.88 66.9L1396.5 68.5L1397.25 68.27L1398 69.85L1398.75 70.37L1399.5 69.5L1400.12 70.54L1400.75 68.45L1401.38 70.72L1402 69L1402.62 69.09L1403.25 70.6L1403.88 69.49L1404.5 69L1405.25 68.21L1406 69.67L1406.75 69.2L1407.5 69.5L1408.12 70.34L1408.75 70.05L1409.38 71.19L1410 71.5L1410.75 70.92L1411.5 69.33L1412.25 69.62L1413 68.5L1413.62 68.83L1414.25 69.71L1414.88 70.15L1415.5 72L1416.12 73.26L1416.75 73.52L1417.38 73.21L1418 75.5L1418.62 75.05L1419.25 76.44L1419.88 76.62L1420.5 77L1421.25 77.3L1422 76.95L1422.75 77.78L1423.5 78L1424.25 78.38L1425 79.39L1425.75 79.04L1426.5 79.5L1427.12 81.26L1427.75 80.31L1428.38 81.46L1429 81.5L1429.75 82.29L1430.5 79.46L1431.25 79.73L1432 79.5L1432.75 80.07L1433.5 78.33L1434.25 77.68L1435 77.5L1435.67 78.49L1436.33 77.84L1437 76.55L1437.67 75.48L1438.33 76.04L1439 75L1439.75 75.35L1440.5 77.85L1441.25 76.4L1442 78L1442.62 77.62L1443.25 77.77L1443.88 79.36L1444.5 80L1445.12 80.32L1445.75 78.67L1446.38 79L1447 77.5L1447.62 79.19L1448.25 80.54L1448.88 81.95L1449.5 83" stroke="#1f77b4"/>
<path d="M839.28 359.44L839.92 350L840.4 330.8L841.52 320.4L842.21 320.16L842.91 319.46L843.6 319.6L844.72 302L845.41 298.85L846.11 295.07L846.8 290.8L847.6 290.07L848.4 287.6L849.2 283.25L850 279.13L850.8 274L851.49 272.15L852.17 271.58L852.86 268.66L853.54 266.91L854.23 267.26L854.91 264.89L855.6 263.6L856.4 264.07L857.2 264.17L858 264.4L858.8 260.82L859.6 255.33L860.4 253.2L861.2 251.26L862 250L862.64 251.37L863.28 252.11L863.92 254L864.66 250.52L865.39 246.43L866.13 243.42L866.86 240.19L867.6 236.4L868.4 237.62L869.2 238.11L870 241.2L870.67 239.93L871.33 238.2L872 236.19L872.67 234.68L873.33 232.31L874 231.6L874.8 235.04L875.6 238.18L876.4 241.2L877.09 239.63L877.77 236.94L878.46 233.63L879.14 231.88L879.83 230.7L880.51 230.25L881.2 226.8L882 226.2L882.8 226.77L883.6 226L884.28 224.3L884.96 223.09L885.64 221.37L886.32 219.6L887.01 219.6L887.71 221.29L888.4 222L889.04 222.46L889.68 219.72L890.32 219.91L890.96 219.64L891.6 218.8L892.27 219.01L892.93 219.4L893.6 218.39L894.27 220.93L894.93 220.1L895.6 219.6L896.25 217.9L896.9 215.72L897.55 211.94L898.2 210.47L898.85 207.05L899.5 205L900.25 204.06L901 203.82L901.75 203.27L902.5 201.5L903.12 203.18L903.75 204.41L904.38 206.21L905 208L905.75 207.96L906.5 205.59L907.25 202.65L908 203L908.7 202.68L909.4 201.29L910.1 198.56L910.8 197.08L911.5 197L912.25 197.53L913 199.5L913.75 199.48L914.5 201L915.12 198.3L915.75 199.28L916.38 198.83L917 196L917.62 196.24L918.25 197.89L918.88 198.42L919.5 199.5L920.25 197.98L921 196.14L921.75 195.36L922.5 194L923.12 196.48L923.75 197.77L924.38 197.65L925 201L925.75 197.76L926.5 196.27L927.25 194.95L928 192.5L928.75 192.44L929.5 192.52L930.25 191.53L931 190L931.75 187.53L932.5 187.75L933.25 188.01L934 186.5L934.75 187.3L935.5 186.33L936.25 187.74L937 187.5L937.75 186.23L938.5 183.71L939.25 181.59L940 180.5L940.75 183.64L941.5 184.37L942.25 187.44L943 190L943.62 189.55L944.25 186.79L944.88 184.1L945.5 184L946.25 182.03L947 179.32L947.75 177.92L948.5 176.5L949.25 177.5L950 179.68L950.75 181.53L951.5 182L952.12 179.65L952.75 178.09L953.38 177.21L954 176L954.62 176.88L955.25 175.67L955.88 173.38L956.5 174L957.12 174.2L957.75 174.34L958.38 175.17L959 175.5L959.6 176L960.4 171.57L961.2 167.1L962 162.4L962.8 163.44L963.6 165.07L964.4 164L965.2 162.08L966 161.6L966.8 162.82L967.6 166.32L968.4 168L969.2 166.22L970 165.9L970.8 164L971.6 159.52L972.4 156.08L973.2 153.6L974 154.26L974.8 155.32L975.6 157.6L976.4 156.68L977.2 156.8L978 159.3L978.8 159.55L979.6 162.4L980.4 161.22L981.2 161.94L982 160.8L982.64 161.25L983.28 162.4L983.92 163.66L984.56 164.54L985.2 164.8L985.84 164.23L986.48 163.38L987.12 161.87L987.76 162.96L988.4 162.4L989.04 162.44L989.68 161.88L990.32 159.47L990.96 160.48L991.6 160L992.24 161.19L992.88 161.78L993.52 161.4L994.16 162.89L994.8 164.8L995.6 162.62L996.4 163.81L997.2 162.4L998 164.34L998.8 163.59L999.6 164.8L1000.24 163.21L1000.88 163.75L1001.52 164.89L1002.16 164.09L1002.8 164L1003.44 163.98L1004.08 161.21L1004.72 162.01L1005.36 160.32L1006 160L1006.64 160.59L1007.28 161.67L1007.92 161.61L1008.56 163.49L1009.2 162.4L1009.84 162.1L1010.48 161.8L1011.12 160.18L1011.76 161.31L1012.4 160.8L1013.2 161.76L1014 165.57L1014.8 167.2L1015.6 164.33L1016.4 162.86L1017.2 160L1018 156.73L1018.8 153.21L1019.6 150.4L1020.4 146.49L1021.2 143.77L1022 140.8L1022.8 140.99L1023.6 138.23L1024.4 136.8L1025.2 136.53L1026 135.2L1026.8 138.49L1027.6 140.36L1028.4 140.8L1029.2 142.47L1030 143.08L1030.8 145.6L1031.47 143.5L1032.13 145.32L1032.8 142.98L1033.47 143.73L1034.13 143.38L1034.8 141.6L1035.44 141.9L1036.08 142.56L1036.72 141.65L1037.36 139.79L1038 140L1038.8 140.81L1039.6 141.76L1040.4 143.2L1041.04 141.92L1041.68 144.52L1042.32 144.23L1042.96 145.05L1043.6 144.8L1044.4 145.91L1045.2 147.56L1046 149.6L1046.8 148L1047.6 148.14L1048.4 147.2L1049.2 143.92L1050 142.8L1050.8 140L1051.44 141.58L1052.08 141.4L1052.72 140.99L1053.36 141.98L1054 142.4L1054.64 141.86L1055.28 141.99L1055.92 142.94L1056.56 141.54L1057.2 141.6L1057.84 140.9L1058.48 141.19L1059.12 143.34L1059.76 142.75L1060.4 143.2L1061.04 143.05L1061.68 141.67L1062.32 141.74L1062.96 140.7L1063.6 141.6L1064.24 142.77L1064.88 141.9L1065.52 144.17L1066.16 143.19L1066.8 144L1067.6 145.17L1068.4 144.82L1069.2 145.6L1070 143.31L1070.8 142.79L1071.6 140.8L1072.24 141.26L1072.88 141.18L1073.52 142.72L1074.16 143.16L1074.8 143.2L1075.44 142.31L1076.08 144.25L1076.72 142.9L1077.36 141.02L1078 142.4L1078.64 144.35L1079.28 144.66L1079.92 145L1080.56 146.18L1081.2 148L1083.6 124.8L1084.4 124.55L1085.2 123.95L1086 122.4L1086.8 120.52L1087.6 120.61L1088.4 120L1089.04 119.1L1089.68 121L1090.32 118.94L1090.96 119.08L1091.6 120L1092.4 121.41L1093.2 123.61L1094 124L1094.8 123.31L1095.6 122.91L1096.4 121.6L1097.2 123.05L1098 124.52L1098.8 126.4L1099.44 128.04L1100.08 128.79L1100.72 130.45L1101.36 130.69L1102 132.8L1102.8 131.45L1103.6 129.9L1104.4 128L1105.04 129.78L1105.68 130.86L1106.32 131.09L1106.96 133.6L1107.6 135.2L1108.4 131.94L1109.2 129.81L1110 127.2L1110.64 127.13L1111.28 126.68L1111.92 127.61L1112.56 127.49L1113.2 126.4L1113.84 126.52L1114.48 127.04L1115.12 125.76L1115.76 128L1116.4 128L1117.04 127.08L1117.68 128.19L1118.32 128.16L1118.96 125.4L1119.6 125.6L1120 125.6L1120.64 126.36L1121.28 126.79L1121.92 127.76L1122.56 130.34L1123.2 130.4L1124 129.46L1124.8 128.4L1125.6 128L1126.4 129.93L1127.2 132.58L1128 133.6L1128.64 133.73L1129.28 130.72L1129.92 131.94L1130.56 130.66L1131.2 130.4L1131.84 131.71L1132.48 131.53L1133.12 132.59L1133.76 132.44L1134.4 133.6L1135.04 133.63L1135.68 131.02L1136.32 132.15L1136.96 130.13L1137.6 130.4L1138.24 129.36L1138.88 130.3L1139.52 128.24L1140.16 128.42L1140.8 128.8L1141.44 126.73L1142.08 125.53L1142.72 125.22L1143.36 124.64L1144 121.6L1144.8 117.64L1145.6 114.84L1146.4 109.6L1147.2 107.35L1148 107.31L1148.8 106.4L1149.44 105.85L1150.08 105.76L1150.72 107.34L1151.36 107.52L1152 108.8L1152.64 109.19L1153.28 109.4L1153.92 107.5L1154.56 107.76L1155.2 106.4L1155.84 107.55L1156.48 108.99L1157.12 111.2L1157.76 110.14L1158.4 112.8L1159.04 115.04L1159.68 114.07L1160.32 113.15L1160.96 115.46L1161.6 116L1162.27 116.15L1162.93 116.76L1163.6 117.29L1164.27 118.35L1164.93 118.71L1165.6 120L1166.24 118.93L1166.88 118.09L1167.52 116.48L1168.16 117.72L1168.8 116.8L1169.44 116.81L1170.08 115.65L1170.72 114.89L1171.36 114.33L1172 115.2L1172.64 117.05L1173.28 116.93L1173.92 119.42L1174.56 120.14L1175.2 120.8L1175.84 120.5L1176.48 119.41L1177.12 118.59L1177.76 117.28L1178.4 118.4L1179.04 119.13L1179.68 119.1L1180.32 120.59L1180.96 121.55L1181.6 122.4L1182.24 120.36L1182.88 122.72L1183.52 120.72L1184.16 120.66L1184.8 120L1185.44 118.28L1186.08 119.47L1186.72 118.76L1187.36 118.08L1188 118.4L1188.64 118.68L1189.28 119.78L1189.92 120.88L1190.56 119L1191.2 120.8L1191.84 120.17L1192.48 120.48L1193.12 119.15L1193.76 117.28L1194.4 116L1195.04 115L1195.68 116.86L1196.32 116.4L1196.96 115.99L1197.6 116.8L1198.24 118.72L1198.88 117.76L1199.52 117.88L1200.16 119.09L1200.8 118.4L1201.44 116.16L1202.08 114.98L1202.72 114.04L1203.36 113.31L1204 111.2L1204.8 108.71L1205.6 103.89L1206.4 102.4L1207.2 100.13L1208 98.41L1208.8 96L1209.44 94.77L1210.08 96.31L1210.72 97.15L1211.36 97.53L1212 97.6L1212.67 96.1L1213.33 96.21L1214 97.24L1214.67 96.47L1215.33 96.66L1216 96.8L1216.8 96.78L1217.6 96.74L1218.4 94.4L1219.04 97.6L1219.68 97.01L1220.32 98.42L1220.96 100.37L1221.6 102.4L1222.24 103.98L1222.88 101.98L1223.52 102.24L1224.16 103.68L1224.8 104.8L1225.44 103.91L1226.08 103.05L1226.72 102.98L1227.36 103.75L1228 102.4L1228.67 103.75L1229.33 103.63L1230 103.6L1230.67 106.3L1231.33 106.62L1232 108L1232.64 108.22L1233.28 107.16L1233.92 105.73L1234.56 103.84L1235.2 104.8L1235.87 105.2L1236.53 105.88L1237.2 104.91L1237.87 107.52L1238.53 106.27L1239.2 107.2L1239.84 104.44L1240.48 103.04L1241.12 104.6L1241.76 100.99L1242.4 100.8L1243.04 101.17L1243.68 99L1244.32 101.38L1244.96 101.54L1245.6 100L1246.24 98.82L1246.88 98.71L1247.52 100.46L1248.16 99.52L1248.8 100L1249.44 100.88L1250.08 100.89L1250.72 103.18L1251.36 103.43L1252 105.6L1252.8 109.49L1253.6 110.7L1254.4 115.2L1255.04 113.27L1255.68 113.94L1256.32 111.54L1256.96 109.9L1257.6 109.6L1258.4 107.52L1259.2 105.6L1260 104L1260.64 104.83L1261.28 106.89L1261.92 107.8L1262.56 108.34L1263.2 109.6L1263.84 106.73L1264.48 106.72L1265.12 103.45L1265.76 100.81L1266.4 98.4L1267.2 95.44L1268 92.79L1268.8 89.6L1269.44 89.67L1270.08 89.71L1270.72 89.42L1271.36 89.11L1272 88.8L1272.64 88.78L1273.28 87.7L1273.92 87.28L1274.56 87.38L1275.2 86.4L1275.84 85.74L1276.48 84.23L1277.12 84.79L1277.76 83.71L1278.4 82.4L1279.04 82.68L1279.68 84.21L1280.32 85.15L1280.96 85.37L1281.6 86.4L1282.24 86.78L1282.88 84.48L1283.52 85.58L1284.16 84.61L1284.8 85.6L1285.44 84.94L1286.08 87.49L1286.72 89.12L1287.36 87.09L1288 88.8L1288.64 89.81L1289.28 91.8L1289.92 90.56L1290.56 93.53L1291.2 94.4L1291.84 94.88L1292.48 92.16L1293.12 94.12L1293.76 93.9L1294.4 92.8L1295.04 93.6L1295.68 95.3L1296.32 94.42L1296.96 95.48L1297.6 96L1298.24 96.87L1298.88 96.91L1299.52 97.63L1300.16 96.79L1300.8 97.6L1301.44 96.9L1302.08 96.43L1302.72 97.45L1303.36 97.85L1304 96.8L1304.67 98.53L1305.33 98.6L1306 96.02L1306.67 97.69L1307.33 99.07L1308 97.6L1308.64 96.7L1309.28 98.42L1309.92 96.66L1310.56 97.82L1311.2 97.6L1311.84 98.73L1312.48 99.85L1313.12 99.29L1313.76 99.16L1314.4 100L1315.07 97.95L1315.73 97.7L1316.4 99.39L1317.07 98.04L1317.73 97.32L1318.4 96.8L1319.04 96.7L1319.68 96.3L1320.32 96.48L1320.96 94.35L1321.6 93.6L1322.24 95.13L1322.88 95.25L1323.52 95.64L1324.16 95.25L1324.8 96.8L1325.6 93.88L1326.4 89.51L1327.2 87.2L1328 82.71L1328.8 81.23L1329.6 76.8L1330 78L1330.75 76.99L1331.5 76.41L1332.25 76.89L1333 77.5L1333.62 76.43L1334.25 74.96L1334.88 75.85L1335.5 74.5L1336.12 75.85L1336.75 76.9L1337.38 78.15L1338 78.5L1338.67 78.32L1339.33 80.11L1340 80L1340.75 78.5L1341.5 77.06L1342.25 75.46L1343 75.5L1343.62 76.46L1344.25 77.06L1344.88 79.77L1345.5 80.5L1346.12 82.5L1346.75 82.68L1347.38 84.23L1348 87L1348.75 86.54L1349.5 84.92L1350.25 84.9L1351 84L1351.75 84.07L1352.5 84L1353.25 83.61L1354 83.5L1354.75 83.26L1355.5 83.06L1356.25 82.74L1357 83L1357.75 82.83L1358.5 82.68L1359.25 83.29L1360 83.5L1360.75 85.13L1361.5 85.3L1362.25 84.42L1363 86L1363.62 86.34L1364.25 87.16L1364.88 86.28L1365.5 88.5L1366.25 87.12L1367 88.29L1367.75 87.26L1368.5 87L1369.12 88.41L1369.75 86.69L1370.38 88.2L1371 87.5L1371.62 87.16L1372.25 86.21L1372.88 87.14L1373.5 87L1374.12 87.93L1374.75 87.59L1375.38 87.6L1376 88L1376.75 87.92L1377.5 86.06L1378.25 86.12L1379 86L1379.75 85.54L1380.5 86.75L1381.25 85.28L1382 86.5L1382.62 87.03L1383.25 86.55L1383.88 86.03L1384.5 88L1385.17 87.93L1385.83 87.03L1386.5 88L1387.17 85.58L1387.83 83.72L1388.5 81L1389.17 78.4L1389.83 72.91L1390.5 70L1391.12 70.24L1391.75 72.08L1392.38 71.47L1393 71L1393.75 70.54L1394.5 71.36L1395.25 71.51L1396 70L1396.75 70.49L1397.5 68.99L1398.25 69.92L1399 69L1399.67 68.26L1400.33 67.29L1401 66.5L1401.62 67.87L1402.25 68.61L1402.88 69.21L1403.5 70L1404.12 71.48L1404.75 72.77L1405.38 71.93L1406 74L1406.75 72.31L1407.5 73.33L1408.25 72.45L1409 70.5L1409.75 71.96L1410.5 71.6L1411.25 74.68L1412 75L1412.75 74.98L1413.5 75.35L1414.25 74.78L1415 74.5L1415.75 74.8L1416.5 77.02L1417.25 76.41L1418 77L1418.75 77.92L1419.5 76.26L1420.25 77.92L1421 78L1421.75 79.53L1422.5 78.32L1423.25 78.73L1424 78L1424.75 79.38L1425.5 80.12L1426.25 79.27L1427 79.5L1427.75 78.88L1428.5 80.34L1429.25 78.72L1430 79.5L1430.62 79.85L1431.25 82.79L1431.88 81.84L1432.5 83.5L1433.12 84.08L1433.75 85.83L1434.38 85.36L1435 87.5L1435.62 85.01L1436.25 84.09L1436.88 81L1437.5 80L1438.12 78.12L1438.75 77.68L1439.38 78.45L1440 77L1440.62 77.85L1441.25 79.3L1441.88 80.24L1442.5 81L1443.12 80.43L1443.75 79.49L1444.38 79.13L1445 78.5L1445.67 78.37L1446.33 80.45L1447 80.5L1447.62 81.46L1448.25 80.29L1448.88 80.88L1449.5 82.5" stroke="#ff7f0e"/>
<path d="M839.28 422.64L840.88 409.2L842.8 387.6L845.2 366L845.89 360.91L846.57 356.16L847.26 350.24L847.94 345.73L848.63 341.38L849.31 336.89L850 330.8L850.64 328L851.28 326.39L851.92 323.4L852.56 321.77L853.2 319.6L853.84 317.6L854.48 317.46L855.12 314.32L855.76 312.82L856.4 311.6L857.2 306.93L858 303.88L858.8 299.6L859.44 305.59L860.08 309.1L860.72 314L861.41 309.32L862.11 306.39L862.8 301.2L863.6 301.38L864.4 303.33L865.2 302L866 299.83L866.8 298.5L867.6 296.4L868.4 295.92L869.2 294.97L870 294.8L870.8 289.94L871.6 285.03L872.4 280.4L873.2 281.46L874 282.8L874.67 282.4L875.33 281.73L876 280.4L876.67 280.3L877.33 280.01L878 278.8L878.64 279.92L879.28 278.6L879.92 275.76L880.56 277.74L881.2 276.4L882 275.35L882.8 274.12L883.6 273.2L884.4 264.4L885.04 263.3L885.68 262.48L886.32 264.6L886.96 264.08L887.6 263.6L888.27 263.58L888.93 261.55L889.6 261.24L890.27 260.04L890.93 259.14L891.6 258.8L892.4 261.2L893.2 259.92L894 261.2L894.8 257.63L895.6 253.2L896.4 255.57L897.2 256.52L898 259.6L898.8 254.39L899.6 250.51L900.4 245.2L901.2 244.2L902 244.43L902.8 243.6L903.44 243.26L904.08 242.3L904.72 241.42L905.36 240.48L906 239.6L906.8 238.28L907.6 236.45L908.4 236.4L909.04 236.35L909.68 236.29L910.32 234.95L910.96 234.44L911.6 234L912.4 232.1L913.2 229.51L914 227.6L914.64 228.72L915.28 232.17L915.92 234.57L916.56 238.84L917.2 241.2L917.87 240.84L918.53 237.96L919.2 237.83L919.87 234.83L920.53 233.29L921.2 231.6L922 227.02L922.8 222.8L923.44 223.36L924.08 225.79L924.72 227.56L925.36 228.39L926 230L926.67 230L927.33 226.04L928 225.24L928.67 222.96L929.33 221.64L930 220.4L930.8 220.74L931.6 221.52L932.4 223.6L933.04 222.09L933.68 221.43L934.32 220.37L934.96 219.55L935.6 218.8L936.27 218.27L936.93 215.87L937.6 217.68L938.27 215.98L938.93 213.87L939.6 214.8L940.3 209.67L941 206L941.67 208.19L942.33 212.9L943 215L943.75 214.26L944.5 211.81L945.25 209.65L946 209L946.75 207.24L947.5 205.24L948.25 205.05L949 204.5L949.75 206.3L950.5 206.5L951.17 205.22L951.83 201.7L952.5 200L953.2 200.88L953.9 201.01L954.6 201.39L955.3 200.8L956 202.5L956.75 204.5L957.5 205.42L958.25 208.07L959 210.5L959.75 209.32L960.5 205.18L961.25 203.35L962 200L962.75 199L963.5 195.51L964.25 194.02L965 192L965.67 191.45L966.33 191.89L967 190.73L967.67 189.84L968.33 189.96L969 188.5L969.67 189.91L970.33 192L971 194.85L971.67 194.33L972.33 196.46L973 198L973.62 195.24L974.25 191.97L974.88 188.15L975.5 184L976.2 187.2L976.9 188.53L977.6 190.61L978.3 192.66L979 194.5L979.67 193.89L980.33 194.11L981 194L981.62 192.18L982.25 191.72L982.88 189.06L983.5 189L984.2 187.63L984.9 188.87L985.6 187.1L986.3 185.86L987 185L987.75 186.23L988.5 186.63L989.25 185.1L990 186L990.75 185.72L991.5 182.76L992.25 182.17L993 181.5L993.7 181.53L994.4 179.27L995.1 178.4L995.8 178.91L996.5 177L997.2 178.16L997.9 177.64L998.6 180.11L999.3 180.69L1000 181L1000.75 182.53L1001.5 180.89L1002.25 182.45L1003 182.5L1003.75 181.2L1004.5 180.98L1005.25 178.86L1006 178.5L1006.62 177.91L1007.25 178.06L1007.88 178.08L1008.5 177.5L1009.12 176.82L1009.75 177.85L1010.38 175.59L1011 175.5L1011.62 177.81L1012.25 180.69L1012.88 182.34L1013.5 184.5L1014.25 182.33L1015 179.12L1015.75 179.1L1016.5 176L1017.17 176.66L1017.83 179.96L1018.5 181.5L1019.12 179.17L1019.75 176.95L1020.38 176.15L1021 174.5L1021.75 173.04L1022.5 171.82L1023.25 171.22L1024 170L1024.7 167.65L1025.4 166.25L1026.1 165.5L1026.8 163.2L1027.44 163.84L1028.08 161.93L1028.72 162.58L1029.36 162.21L1030 161.6L1030.64 159.75L1031.28 159.23L1031.92 158.13L1032.56 157L1033.2 154.4L1034 156.8L1034.8 155.62L1035.6 156.8L1036.4 160.84L1037.2 162.16L1038 167.2L1038.64 166.71L1039.28 163.82L1039.92 161.63L1040.56 160.76L1041.2 159.2L1041.84 160.1L1042.48 160.19L1043.12 161.92L1043.76 160.8L1044.4 162.4L1045.04 161.76L1045.68 162.07L1046.32 164.08L1046.96 164.64L1047.6 164.8L1048.4 164.22L1049.2 163.73L1050 160.8L1050.64 163.44L1051.28 164.2L1051.92 166.06L1052.56 167.93L1053.2 168.8L1053.84 166.13L1054.48 165.67L1055.12 163.64L1055.76 161.8L1056.4 160L1057.04 161.04L1057.68 160.8L1058.32 162.17L1058.96 163.14L1059.6 163.2L1060.24 163.59L1060.88 163.14L1061.52 164.22L1062.16 165.47L1062.8 166.4L1063.44 166.44L1064.08 164.7L1064.72 162.35L1065.36 161.66L1066 160L1066.8 156.94L1067.6 155.87L1068.4 152.8L1069.2 157.63L1070 161.85L1070.8 167.2L1071.44 165.86L1072.08 163.25L1072.72 162.7L1073.36 161.12L1074 158.4L1074.8 160.82L1075.6 160.61L1076.4 162.4L1077.04 159.69L1077.68 158.27L1078.32 155.82L1078.96 155.82L1079.6 152.8L1080.4 155.31L1081.2 158.13L1082 163.2L1082.64 157.84L1083.28 152.94L1083.92 149.16L1084.56 144.81L1085.2 140L1086 141.8L1086.8 143.45L1087.6 145.6L1088.24 147.12L1088.88 147.08L1089.52 149L1090.16 148.84L1090.8 149.6L1091.49 148.88L1092.17 150.72L1092.86 149.01L1093.54 149.67L1094.23 151.2L1094.91 149.59L1095.6 149.6L1096.27 147.47L1096.93 145.87L1097.6 144.44L1098.27 142.29L1098.93 140.04L1099.6 139.2L1100.4 141.29L1101.2 144.67L1102 146.4L1102.64 144.97L1103.28 143.47L1103.92 143.1L1104.56 139.37L1105.2 138.4L1105.87 140.29L1106.53 141.86L1107.2 142.61L1107.87 143.59L1108.53 145.76L1109.2 146.4L1109.87 147.01L1110.53 145.18L1111.2 147.13L1111.87 145.94L1112.53 146.44L1113.2 144.8L1113.87 146.21L1114.53 146.63L1115.2 146.69L1115.87 147.72L1116.53 148.49L1117.2 148.8L1117.84 146L1118.48 145.62L1119.12 142.26L1119.76 140.5L1120.4 138.4L1121.2 137.62L1122 135.61L1122.8 135.2L1123.47 136.13L1124.13 139.02L1124.8 139.69L1125.47 139.56L1126.13 141.14L1126.8 143.2L1127.6 145.34L1128.4 145.94L1129.2 149.6L1129.84 149.02L1130.48 148.32L1131.12 146.68L1131.76 146.35L1132.4 145.6L1133.04 143.89L1133.68 143.12L1134.32 143.12L1134.96 141.28L1135.6 140.8L1136.24 142.37L1136.88 145.8L1137.52 148.63L1138.16 149.97L1138.8 152.8L1139.6 148.48L1140.4 145.05L1141.2 140L1142 139.39L1142.8 135.73L1143.6 136L1144.27 131.37L1144.93 127.07L1145.6 120.8L1146.24 120.84L1146.88 119.04L1147.52 119.46L1148.16 116.36L1148.8 116.8L1149.44 118.89L1150.08 120.64L1150.72 123.12L1151.36 122.88L1152 126.4L1152.64 125.98L1153.28 125.92L1153.92 126.96L1154.56 126.25L1155.2 126.4L1155.87 126.28L1156.53 125.83L1157.2 126.11L1157.87 126.76L1158.53 125.6L1159.2 125.6L1159.84 126.26L1160.48 127.34L1161.12 129.44L1161.76 130.88L1162.4 131.2L1163.04 129.54L1163.68 128.81L1164.32 126.37L1164.96 126.62L1165.6 124.8L1166.24 125.12L1166.88 123.56L1167.52 124.51L1168.16 124.97L1168.8 124.8L1169.44 124.15L1170.08 127.08L1170.72 126.45L1171.36 125.46L1172 127.2L1172.64 125.12L1173.28 126.23L1173.92 125.4L1174.56 125.35L1175.2 124.8L1175.84 124.92L1176.48 124.21L1177.12 126.9L1177.76 127.45L1178.4 127.2L1179.04 129.44L1179.68 128.94L1180.32 130.13L1180.96 130.9L1181.6 130.4L1182.24 129.97L1182.88 128.98L1183.52 128.13L1184.16 128.35L1184.8 127.2L1185.44 127.45L1186.08 128.78L1186.72 129.28L1187.36 129.28L1188 129.6L1188.64 130.43L1189.28 129.51L1189.92 131.04L1190.56 130.53L1191.2 131.2L1191.84 130.74L1192.48 129.29L1193.12 130.03L1193.76 128.55L1194.4 128L1195.2 126.24L1196 121.7L1196.8 120L1197.44 121.24L1198.08 124.1L1198.72 125.87L1199.36 129.4L1200 131.2L1200.8 131.51L1201.6 132.19L1202.4 133.6L1203.2 132.3L1204 131L1204.8 128.8L1207.2 107.2L1208 109.45L1208.8 108.37L1209.6 109.6L1210.4 107.74L1211.2 105.33L1212 105.6L1212.64 106.12L1213.28 105.69L1213.92 107.28L1214.56 107.59L1215.2 107.2L1215.84 108.75L1216.48 108.41L1217.12 109.83L1217.76 110.83L1218.4 112L1219.2 110.39L1220 107.58L1220.8 105.6L1221.44 105.78L1222.08 106.51L1222.72 106.45L1223.36 106.6L1224 107.2L1224.64 109.11L1225.28 108.76L1225.92 109.96L1226.56 110.89L1227.2 112L1227.84 114.36L1228.48 112.6L1229.12 115.17L1229.76 116.07L1230.4 116.8L1231.04 115.94L1231.68 115.76L1232.32 115.23L1232.96 115.49L1233.6 114.4L1234.24 112.19L1234.88 111.91L1235.52 109.44L1236.16 108.76L1236.8 108.8L1237.44 112.16L1238.08 115.1L1238.72 115.56L1239.36 117.48L1240 121.6L1240.64 118.03L1241.28 116.36L1241.92 115.49L1242.56 110.78L1243.2 108.8L1244 108.19L1244.8 108.15L1245.6 107.2L1246.24 109.13L1246.88 110.19L1247.52 112.04L1248.16 114.98L1248.8 115.2L1249.44 115.79L1250.08 116.24L1250.72 116.26L1251.36 117.05L1252 117.6L1252.64 115.62L1253.28 114.46L1253.92 113.2L1254.56 112.37L1255.2 109.6L1256 110.55L1256.8 113.54L1257.6 113.6L1258.4 112.12L1259.2 108.71L1260 107.2L1260.8 109.74L1261.6 111.1L1262.4 115.2L1263.12 118.4L1263.84 117.15L1264.56 120.09L1265.28 121.6L1267.2 100L1268 96.4L1268.8 92.3L1269.6 87.2L1270.29 86.05L1270.99 83.86L1271.68 81.6L1272.32 84.62L1272.96 90.58L1273.6 94.4L1274.24 95.04L1274.88 94.28L1275.52 93.92L1276.16 91.8L1276.8 92L1277.44 91.55L1278.08 93.31L1278.72 94.39L1279.36 95.14L1280 97.6L1280.64 96.56L1281.28 96.48L1281.92 95.8L1282.56 94.92L1283.2 93.6L1283.87 95.66L1284.53 93.75L1285.2 96.94L1285.87 97.71L1286.53 96.22L1287.2 98.4L1287.84 98.47L1288.48 97.56L1289.12 96.03L1289.76 97.24L1290.4 96L1291.04 95.93L1291.68 96.07L1292.32 94.26L1292.96 94.93L1293.6 93.6L1294.27 93.07L1294.93 96.8L1295.6 96.4L1296.27 99.44L1296.93 99.74L1297.6 100L1298.24 101.49L1298.88 105.52L1299.52 106.68L1300.16 108.09L1300.8 111.2L1301.44 108.16L1302.08 106.61L1302.72 102.82L1303.36 100.64L1304 99.2L1304.64 98.41L1305.28 98.32L1305.92 98.6L1306.56 98.18L1307.2 98.4L1307.84 100.39L1308.48 100.01L1309.12 99.63L1309.76 101.41L1310.4 102.4L1311.07 102.88L1311.73 101.6L1312.4 99.87L1313.07 99.3L1313.73 96.83L1314.4 97.6L1315.07 96.76L1315.73 96.16L1316.4 96.09L1317.07 97.47L1317.73 97.04L1318.4 96L1319.04 95.96L1319.68 97.37L1320.32 99.02L1320.96 99.82L1321.6 100.8L1322.27 101.36L1322.93 104.15L1323.6 105.5L1324.27 106.14L1324.93 106.64L1325.6 108.8L1328 86.4L1328.67 83.12L1329.33 80.43L1330 77L1330.75 76.25L1331.5 79.02L1332.25 79.62L1333 80L1333.62 78.62L1334.25 79.01L1334.88 76.43L1335.5 76L1336.17 77.56L1336.83 79.59L1337.5 82L1338.12 82.79L1338.75 85.63L1339.38 87.06L1340 87.5L1340.75 87.72L1341.5 85.89L1342.25 83.15L1343 82L1343.75 83.9L1344.5 85.19L1345.25 84.41L1346 85.5L1346.75 84.65L1347.5 83.58L1348.25 83.68L1349 82.5L1349.75 82.94L1350.5 82.43L1351.25 80.29L1352 80L1352.62 81.5L1353.25 82.17L1353.88 82.48L1354.5 84L1355.12 86.15L1355.75 90.42L1356.38 92.18L1357 96.5L1357.62 92.73L1358.25 90.94L1358.88 88.2L1359.5 84.5L1360.25 86.33L1361 88.75L1361.75 89.95L1362.5 91.5L1363.25 90.33L1364 87.09L1364.75 84.16L1365.5 83.5L1366.25 86.47L1367 87.08L1367.75 89.22L1368.5 89L1369.12 88.95L1369.75 89.11L1370.38 88.18L1371 87.5L1371.67 90.37L1372.33 91L1373 94.5L1373.75 92.68L1374.5 91.67L1375.25 87.52L1376 86L1376.67 86.19L1377.33 84.23L1378 84.5L1378.62 86.2L1379.25 86.43L1379.88 86.63L1380.5 89L1381.12 90.08L1381.75 87.87L1382.38 88.19L1383 88L1383.75 89.51L1384.5 94.35L1385.25 95.32L1386 97.5L1386.67 95.65L1387.33 93.84L1388 92L1388.75 87.84L1389.5 83L1391 71L1391.62 70.75L1392.25 69.2L1392.88 68.45L1393.5 67.5L1394.17 66.43L1394.83 68.97L1395.5 69L1396.12 69.07L1396.75 70.42L1397.38 71.42L1398 73L1398.75 72.65L1399.5 72.02L1400.25 69.69L1401 70.5L1401.67 72.6L1402.33 70.29L1403 72L1403.67 74.02L1404.33 75.83L1405 78L1405.62 76.03L1406.25 78.06L1406.88 76.68L1407.5 76.5L1408.12 76.18L1408.75 77.97L1409.38 76.78L1410 79L1410.75 80.91L1411.5 83.5L1412.17 86.69L1412.83 89.96L1413.5 93L1414.12 93.04L1414.75 91.95L1415.38 89.17L1416 90L1416.67 86.58L1417.33 81.93L1418 79L1418.67 76.88L1419.33 76.83L1420 74.5L1420.67 76.48L1421.33 78.18L1422 78L1422.67 80.55L1423.33 84.12L1424 85L1424.62 82.85L1425.25 81.63L1425.88 79.54L1426.5 77.5L1427.12 76.93L1427.75 75.47L1428.38 75.58L1429 76L1429.75 78.37L1430.5 78.65L1431.25 80.83L1432 81L1432.75 79.68L1433.5 79.11L1434.25 78.76L1435 78L1435.62 79.89L1436.25 81.58L1436.88 84.05L1437.5 85L1438.25 85.75L1439 88.5L1439.67 85.76L1440.33 81.12L1441 77.5L1441.67 78.62L1442.33 77.94L1443 79.5L1443.67 81.5L1444.33 83.79L1445 85L1445.75 81.92L1446.5 80.5L1447.25 82.99L1448 82.24L1448.75 84.23L1449.5 85" stroke="#2ca02c"/>
<path d="M839.28 405.84L841.2 382L842 377.84L842.8 374.98L843.6 370.8L848.4 327.6L849.2 327.64L850 324.1L850.8 324.4L851.6 322.14L852.4 321.83L853.2 319.6L854 314.74L854.8 310L855.6 305.2L856.4 302.22L857.2 298.62L858 294L858.64 293.42L859.28 291.66L859.92 292.11L860.56 291.76L861.2 289.2L862 292.74L862.8 296.57L863.6 300.4L866 281.2L866.8 278.97L867.6 274.49L868.4 271.6L869.2 273.23L870 274.51L870.8 277.2L871.6 278.8L872.4 281.2L873.07 277.94L873.73 274.04L874.4 270.04L875.07 266.62L875.73 262.7L876.4 258.8L877.2 257.36L878 257.57L878.8 255.6L879.47 255L880.13 255.58L880.8 254L881.47 254.01L882.13 254.08L882.8 254L883.47 252.29L884.13 252.28L884.8 251.02L885.47 247.04L886.13 246.98L886.8 245.2L887.44 247.86L888.08 247.2L888.72 248.53L889.36 249.26L890 251.6L890.64 252.56L891.28 250.17L891.92 249.79L892.56 248.28L893.2 248.4L894 247.12L894.8 245.64L895.6 245.2L896.4 241.39L897.2 236.9L898 234L898.8 234.87L899.6 236.83L900.4 238L901.2 234L902 229.77L902.8 226L903.6 224.13L904.4 220.53L905.2 218.8L905.84 219.57L906.48 221.47L907.12 220.88L907.76 222.4L908.4 222.8L909.04 224.49L909.68 225.23L910.32 226.6L910.96 227.28L911.6 228.4L912.24 225.98L912.88 224.53L913.52 222.55L914.16 222.32L914.8 218.8L915.53 216.19L916.27 211.92L917 210L917.62 208.75L918.25 208.43L918.88 208.01L919.5 209L920.12 209.25L920.75 210.11L921.38 209.65L922 211L922.75 210.78L923.5 212.63L924.25 215.22L925 214.5L925.7 214.19L926.4 215.7L927.1 213.97L927.8 213.82L928.5 213.5L929.25 211.72L930 209.81L930.75 208.92L931.5 207L932.2 203.97L932.9 201.47L933.6 200.66L934.3 196.79L935 196L935.75 197.38L936.5 202.97L937.25 203.66L938 207L938.75 202.15L939.5 200.37L940.25 196.12L941 194L941.67 193.03L942.33 192.18L943 191.5L943.62 191.33L944.25 192.02L944.88 194.83L945.5 195L946.17 197.3L946.83 196.31L947.5 197.5L948.12 195.03L948.75 193.68L949.38 194.66L950 192.5L950.62 192.13L951.25 192.25L951.88 192.46L952.5 190.5L953.17 193.01L953.83 195.25L954.5 197L955.17 193.93L955.83 191.15L956.5 188L957.12 187.33L957.75 187.73L958.38 188.18L959 186.5L959.62 183.61L960.25 183.2L960.88 180.17L961.5 178.5L962.12 177.36L962.75 177.98L963.38 176.69L964 177L964.62 177.46L965.25 178.64L965.88 178.01L966.5 179L967.25 177.51L968 173.76L968.75 173.78L969.5 171L970.2 172.01L970.9 175.4L971.6 176.13L972.3 176.25L973 178L973.7 177.51L974.4 176.25L975.1 174.67L975.8 175.05L976.5 173L977.2 171.94L977.9 170.47L978.6 169.73L979.3 170.1L980 168L980.75 168.53L981.5 170.45L982.25 173.5L983 175L983.7 174.37L984.4 174.26L985.1 172.3L985.8 173.02L986.5 172L987.12 171.09L987.75 170.04L988.38 170.66L989 169.5L989.62 169.13L990.25 171.12L990.88 170.7L991.5 171.5L992.25 170.63L993 167.91L993.75 168.53L994.5 167L995.25 167.74L996 167.99L996.75 170.24L997.5 170.5L998.25 170.9L999 172.55L999.75 174.98L1000.5 177L1001.25 175.4L1002 173.93L1002.75 173.72L1003.5 172.5L1004.25 172.03L1005 170.23L1005.75 168.28L1006.5 169L1007.25 170.46L1008 170.38L1008.75 170.55L1009.5 172L1010.25 172.15L1011 170.46L1011.75 171.62L1012.5 171.5L1013.25 171.19L1014 169.51L1014.75 169.18L1015.5 168L1016.25 168.22L1017 170.05L1017.75 171.97L1018.5 172.5L1019.12 171.5L1019.75 170.36L1020.38 169.89L1021 169L1022 157.6L1022.8 154.26L1023.6 151.73L1024.4 146.4L1025.2 147.23L1026 146.25L1026.8 148L1027.6 150.75L1028.4 151.41L1029.2 154.4L1030 150.93L1030.8 151.28L1031.6 148.8L1032.24 150.46L1032.88 148.51L1033.52 149.25L1034.16 148.99L1034.8 149.6L1035.44 149.77L1036.08 147.72L1036.72 146.24L1037.36 146.23L1038 145.6L1038.64 145.94L1039.28 144.69L1039.92 144.03L1040.56 143.83L1041.2 144L1041.84 145.23L1042.48 144.32L1043.12 145.54L1043.76 145.5L1044.4 145.6L1045.2 148.94L1046 151.42L1046.8 153.6L1047.44 152.34L1048.08 152.48L1048.72 150.35L1049.36 150.62L1050 149.6L1050.8 151.77L1051.6 152.73L1052.4 153.6L1053.04 150.87L1053.68 150.66L1054.32 149.28L1054.96 148.69L1055.6 146.4L1056.24 145.67L1056.88 146.4L1057.52 144.92L1058.16 145.47L1058.8 144L1059.44 143.67L1060.08 145.37L1060.72 143.36L1061.36 146.88L1062 145.6L1062.8 144L1063.6 144.46L1064.4 144L1065.04 145.52L1065.68 145.81L1066.32 146.28L1066.96 150.08L1067.6 149.6L1068.24 149.73L1068.88 148.86L1069.52 149.05L1070.16 148.48L1070.8 148L1071.6 148.52L1072.4 149.47L1073.2 150.4L1074 149.49L1074.8 148.53L1075.6 147.2L1076.27 147.56L1076.93 148.96L1077.6 149.57L1078.27 149.65L1078.93 150.05L1079.6 150.4L1080.4 150.83L1081.2 148.54L1082 149.6L1084.4 127.2L1085.2 126.34L1086 125.33L1086.8 125.6L1087.44 126.01L1088.08 126.02L1088.72 128.32L1089.36 129.04L1090 130.4L1090.8 131.98L1091.6 133.6L1092.4 132.27L1093.2 127.94L1094 124.8L1094.8 125.9L1095.6 127.01L1096.4 128L1097.2 128.74L1098 130.28L1098.8 130.4L1099.44 130.85L1100.08 130.89L1100.72 130.71L1101.36 132.06L1102 131.2L1102.8 128.61L1103.6 128.34L1104.4 126.4L1105.04 128.77L1105.68 128.45L1106.32 127.45L1106.96 130.04L1107.6 130.4L1108.27 131.17L1108.93 129.34L1109.6 127.48L1110.27 128.34L1110.93 125.01L1111.6 125.6L1112.24 126.22L1112.88 126.45L1113.52 128.54L1114.16 128.36L1114.8 128.8L1115.44 127.68L1116.08 130.35L1116.72 130.88L1117.36 131.41L1118 131.2L1118.67 129.57L1119.33 131.59L1120 130.4L1120.64 131.01L1121.28 130.14L1121.92 131.9L1122.56 132.58L1123.2 132.8L1123.84 133.72L1124.48 133.52L1125.12 134.72L1125.76 134.51L1126.4 135.2L1127.2 134.33L1128 134.28L1128.8 132L1129.44 131.75L1130.08 128.22L1130.72 126.58L1131.36 126.74L1132 124.8L1132.8 127.02L1133.6 129.36L1134.4 132L1135.04 131.24L1135.68 130.28L1136.32 130.57L1136.96 127.97L1137.6 128L1138.24 128.56L1138.88 126.92L1139.52 126.11L1140.16 125.93L1140.8 125.6L1141.6 123.59L1142.4 119.73L1143.2 119.2L1144 114.21L1144.8 111.04L1145.6 105.6L1146.4 106.33L1147.2 105.37L1148 104.8L1148.64 105.83L1149.28 105.59L1149.92 106.82L1150.56 109.1L1151.2 109.6L1151.84 109.68L1152.48 108.74L1153.12 107.92L1153.76 106.32L1154.4 107.2L1155.07 105.8L1155.73 106.81L1156.4 105.21L1157.07 105.89L1157.73 104.07L1158.4 104L1159.2 105.24L1160 104.95L1160.8 105.6L1161.6 107.49L1162.4 109.48L1163.2 112L1164 113.95L1164.8 112.53L1165.6 115.2L1166.4 112.72L1167.2 111.22L1168 109.6L1168.64 109.04L1169.28 108.64L1169.92 111.01L1170.56 109.75L1171.2 111.2L1171.84 110.08L1172.48 109.33L1173.12 110.25L1173.76 108.98L1174.4 109.6L1175.2 109.71L1176 110.15L1176.8 112L1177.44 112.6L1178.08 111.19L1178.72 112.22L1179.36 111.5L1180 110.4L1180.67 111.17L1181.33 110.41L1182 112.27L1182.67 111.05L1183.33 111.78L1184 111.2L1184.64 111.05L1185.28 111.61L1185.92 112.62L1186.56 112.59L1187.2 113.6L1187.84 113.56L1188.48 112.84L1189.12 111.72L1189.76 110.38L1190.4 109.6L1191.04 110.71L1191.68 112.04L1192.32 111.66L1192.96 115.68L1193.6 115.2L1194.24 114.09L1194.88 111.25L1195.52 110.04L1196.16 108.06L1196.8 105.6L1197.44 105.55L1198.08 106.2L1198.72 108.64L1199.36 108.01L1200 108L1200.67 108.66L1201.33 108.71L1202 107.68L1202.67 110.7L1203.33 110.05L1204 110.4L1204.8 105.72L1205.6 101.98L1206.4 96.8L1207.2 95.44L1208 92.36L1208.8 88L1209.47 87.78L1210.13 86L1210.8 85.57L1211.47 85.95L1212.13 84.4L1212.8 85.6L1213.6 90.81L1214.4 96.8L1215.04 95.64L1215.68 95.02L1216.32 92.58L1216.96 89.86L1217.6 89.6L1218.24 91.37L1218.88 90.03L1219.52 92.51L1220.16 93.6L1220.8 94.4L1221.44 93.03L1222.08 92.01L1222.72 93.99L1223.36 92.58L1224 92L1224.8 93.07L1225.6 93.31L1226.4 94.4L1227.07 94.2L1227.73 93.3L1228.4 92.04L1229.07 89.97L1229.73 88.32L1230.4 88.8L1231.04 88.97L1231.68 90.6L1232.32 90.27L1232.96 91L1233.6 91.2L1234.4 91.46L1235.2 94.68L1236 95.2L1236.64 95.04L1237.28 94.75L1237.92 93.92L1238.56 92.05L1239.2 91.2L1240 91.71L1240.8 91.34L1241.6 92.8L1242.24 95.84L1242.88 96.03L1243.52 98.07L1244.16 99.34L1244.8 100L1245.44 100.13L1246.08 98.12L1246.72 96.65L1247.36 96.94L1248 96L1248.64 95.69L1249.28 97.13L1249.92 97.31L1250.56 97.31L1251.2 98.4L1251.84 97.42L1252.48 96.16L1253.12 97.78L1253.76 97.17L1254.4 96.8L1255.04 96.2L1255.68 94.38L1256.32 94.8L1256.96 92.94L1257.6 92.8L1258.4 94.76L1259.2 96.32L1260 97.6L1260.8 99.19L1261.6 99.88L1262.4 102.4L1263.2 100.67L1264 101.04L1264.8 100L1267.2 78.4L1268 76.01L1268.8 72.97L1269.6 70.4L1270.4 70.43L1271.2 72.65L1272 74.4L1272.8 73.7L1273.6 73.66L1274.4 73.6L1275.04 74.8L1275.68 76.37L1276.32 76.78L1276.96 77.67L1277.6 78.4L1278.4 77.96L1279.2 79.16L1280 80L1280.64 78.57L1281.28 78.73L1281.92 77.03L1282.56 77.56L1283.2 76L1284 75.96L1284.8 75.59L1285.6 76L1286.4 77.25L1287.2 78.12L1288 79.2L1288.67 80.18L1289.33 78.87L1290 78.63L1290.67 79.22L1291.33 81.21L1292 80.8L1292.67 80.48L1293.33 79.02L1294 79.65L1294.67 78.47L1295.33 78.92L1296 77.6L1296.64 76.02L1297.28 77.41L1297.92 75.52L1298.56 78.22L1299.2 76.8L1299.84 75.84L1300.48 77.78L1301.12 78.1L1301.76 78.18L1302.4 79.2L1303.04 79.99L1303.68 81.46L1304.32 83.49L1304.96 83.47L1305.6 84.8L1306.24 85.48L1306.88 83.68L1307.52 81.97L1308.16 81.67L1308.8 81.6L1309.6 82.57L1310.4 84.21L1311.2 85.6L1311.87 84.72L1312.53 85.26L1313.2 85.77L1313.87 87.13L1314.53 87.93L1315.2 87.2L1315.84 85.05L1316.48 84.94L1317.12 82.71L1317.76 82.25L1318.4 80.8L1319.04 81.29L1319.68 83.97L1320.32 83.67L1320.96 86.23L1321.6 88L1322.4 89.36L1323.2 90.56L1324 92L1324.8 90.56L1325.6 86.39L1326.4 85.6L1327.04 82.88L1327.68 77.4L1328.32 75.88L1328.96 71.4L1329.6 68.8L1330 68.5L1330.75 68.76L1331.5 71.07L1332.25 71.22L1333 71.5L1333.62 70.74L1334.25 69.83L1334.88 67.57L1335.5 67.5L1336.17 68.23L1336.83 68.64L1337.5 69.5L1338.12 70.04L1338.75 68.78L1339.38 67.55L1340 67.5L1340.75 66.89L1341.5 66.95L1342.25 65.64L1343 66.5L1343.75 68.3L1344.5 70.9L1345.25 72.81L1346 76L1346.75 73.73L1347.5 72.77L1348.25 69.85L1349 68L1349.75 67.21L1350.5 66.14L1351.25 66.5L1352 66L1352.62 66.45L1353.25 66.67L1353.88 68.27L1354.5 67.5L1355.25 69.34L1356 71.17L1356.75 71.94L1357.5 72.5L1358.12 70.92L1358.75 72.25L1359.38 69.03L1360 70L1360.75 70.16L1361.5 69.02L1362.25 68.17L1363 69L1363.7 68.74L1364.4 69.41L1365.1 72.1L1365.8 71.16L1366.5 71.5L1367.2 71.57L1367.9 72.16L1368.6 72.35L1369.3 73.57L1370 73L1370.75 71.91L1371.5 72.08L1372.25 69.69L1373 69.5L1373.67 71.85L1374.33 74.09L1375 76L1375.75 74.83L1376.5 73.53L1377.25 73.2L1378 72L1378.62 74.28L1379.25 76.85L1379.88 77.1L1380.5 79L1381.12 79.82L1381.75 79.09L1382.38 77.43L1383 76L1383.75 75.3L1384.5 73.05L1385.25 72.67L1386 72L1386.62 70.68L1387.25 69.9L1387.88 69.77L1388.5 68.5L1389.17 65.53L1389.83 62.89L1390.5 60L1391.17 58.43L1391.83 58.51L1392.5 56L1393.12 57.85L1393.75 57.33L1394.38 56.69L1395 57L1395.75 57.33L1396.5 55.8L1397.25 56.18L1398 56L1398.67 56.84L1399.33 55.19L1400 57L1400.75 56.18L1401.5 55.1L1402.25 56.91L1403 55.5L1403.67 58.25L1404.33 58.24L1405 61L1405.75 61.54L1406.5 63.58L1407.25 66.28L1408 66.5L1408.75 67.11L1409.5 64.07L1410.25 63.97L1411 63L1411.67 62.07L1412.33 62.02L1413 61.5L1413.67 60.76L1414.33 61.58L1415 60.5L1415.62 59.74L1416.25 59.36L1416.88 59.52L1417.5 59L1418.25 60.16L1419 58.68L1419.75 60.11L1420.5 61L1421.12 61.53L1421.75 62.2L1422.38 63.85L1423 64.5L1423.75 65.37L1424.5 66.2L1425.25 66.56L1426 67L1426.75 66.02L1427.5 65.32L1428.25 64.74L1429 63L1429.75 63.95L1430.5 67.97L1431.25 69.29L1432 71L1432.75 69.07L1433.5 68.04L1434.25 66.57L1435 66.5L1435.7 66.26L1436.4 66.83L1437.1 64.26L1437.8 62.9L1438.5 64L1439.2 65.07L1439.9 67.8L1440.6 65.81L1441.3 68.74L1442 69.5L1442.7 66.84L1443.4 66.91L1444.1 65.13L1444.8 65.27L1445.5 63L1446.17 62.39L1446.83 62.77L1447.5 63.72L1448.17 63.61L1448.83 63.51L1449.5 64" stroke="#d62728"/>
</g>
<rect x="809.5" y="37.5" width="670" height="405" fill="none" stroke="#000" stroke-width="1"/>
<rect x="816.5" y="44.5" width="112" height="88" rx="2.8" ry="2.8" fill="#fff" fill-opacity="0.8" stroke="#ccc" stroke-opacity="0.8" stroke-width="1.39"/>
<path d="M821 56H849" stroke="#1f77b4" stroke-width="2" stroke-linecap="square" fill="none"/>
<path d="M821 77H849" stroke="#ff7f0e" stroke-width="2" stroke-linecap="square" fill="none"/>
<path d="M821 98H849" stroke="#2ca02c" stroke-width="2" stroke-linecap="square" fill="none"/>
<path d="M821 119H849" stroke="#d62728" stroke-width="2" stroke-linecap="square" fill="none"/>
<text x="97.43" y="462.42" font-size="13.89" text-anchor="middle">0</text>
<text x="222.08" y="462.2" font-size="13.89" text-anchor="middle" letter-spacing="-0.13">200</text>
<text x="346.25" y="462.17" font-size="13.89" text-anchor="middle" letter-spacing="-0.51">400</text>
<text x="472.1" y="462.46" font-size="13.89" text-anchor="middle" letter-spacing="-0.04">600</text>
<text x="597.12" y="462.33" font-size="13.89" text-anchor="middle">800</text>
<text x="721.53" y="462.26" font-size="13.89" text-anchor="middle" letter-spacing="-0.18">1000</text>
<text x="56.31" y="439.25" font-size="13.89" text-anchor="end" letter-spacing="-0.59">0.0</text>
<text x="56.5" y="376.8" font-size="13.89" text-anchor="end" letter-spacing="-0.54">0.5</text>
<text x="55.38" y="315.99" font-size="13.89" text-anchor="end" letter-spacing="-0.58">1.0</text>
<text x="55.66" y="254.11" font-size="13.89" text-anchor="end" letter-spacing="-0.48">1.5</text>
<text x="56.85" y="192.96" font-size="13.89" text-anchor="end" letter-spacing="-0.11">2.0</text>
<text x="57.16" y="131.31" font-size="13.89" text-anchor="end" letter-spacing="0.04">2.5</text>
<text x="55.04" y="69.99" font-size="13.89" text-anchor="end" letter-spacing="-0.71">3.0</text>
<text transform="translate(401.53 29.01) scale(1 1.085)" font-size="16.67" text-anchor="middle" letter-spacing="-0.03">Training Loss (Moving Average)</text>
<text x="401.53" y="482.12" font-size="13.89" text-anchor="middle">Batches (averaged)</text>
<text transform="translate(26.14 242.66) rotate(-90)" font-size="13.89" text-anchor="middle" letter-spacing="-0.26">Loss</text>
<text x="662.95" y="61.2" font-size="13.89" letter-spacing="-0.62">SGD</text>
<text x="661.9" y="81.89" font-size="13.89" letter-spacing="-0.3">Adam</text>
<text x="661.34" y="103.05" font-size="13.89" letter-spacing="-0.06">RMSprop</text>
<text x="661.42" y="123.96" font-size="13.89" letter-spacing="-0.04">Adagrad</text>
<text x="840.44" y="462.42" font-size="13.89" text-anchor="middle">0</text>
<text x="964.08" y="462.2" font-size="13.89" text-anchor="middle" letter-spacing="-0.13">200</text>
<text x="1089.2" y="462.18" font-size="13.89" text-anchor="middle" letter-spacing="-0.63">400</text>
<text x="1214.1" y="462.46" font-size="13.89" text-anchor="middle" letter-spacing="-0.04">600</text>
<text x="1339.12" y="462.33" font-size="13.89" text-anchor="middle">800</text>
<text x="1463.53" y="462.26" font-size="13.89" text-anchor="middle" letter-spacing="-0.18">1000</text>
<text x="798.32" y="398" font-size="13.89" text-anchor="end" letter-spacing="-0.57">0.2</text>
<text x="798.59" y="310.92" font-size="13.89" text-anchor="end" letter-spacing="-0.49">0.4</text>
<text x="798.41" y="223.95" font-size="13.89" text-anchor="end" letter-spacing="-0.57">0.6</text>
<text x="798.55" y="137.4" font-size="13.89" text-anchor="end" letter-spacing="-0.51">0.8</text>
<text x="798.54" y="50.2" font-size="13.89" text-anchor="end" letter-spacing="-0.48">1.0</text>
<text transform="translate(1144.09 29.01) scale(1 1.085)" font-size="16.67" text-anchor="middle" letter-spacing="-0.04">Training Accuracy (Moving Average)</text>
<text x="1143.54" y="482.12" font-size="13.89" text-anchor="middle" letter-spacing="0.04">Batches (averaged)</text>
<text transform="translate(767.59 241.28) rotate(-90)" font-size="13.89" text-anchor="middle">Accuracy</text>
<text x="860.73" y="61.2" font-size="13.89" letter-spacing="-0.41">SGD</text>
<text x="859.96" y="81.9" font-size="13.89" letter-spacing="-0.36">Adam</text>
<text x="860.24" y="103.03" font-size="13.89" letter-spacing="-0.04">RMSprop</text>
<text x="859.26" y="123.96" font-size="13.89">Adagrad</text>
</svg>
</body></html>
